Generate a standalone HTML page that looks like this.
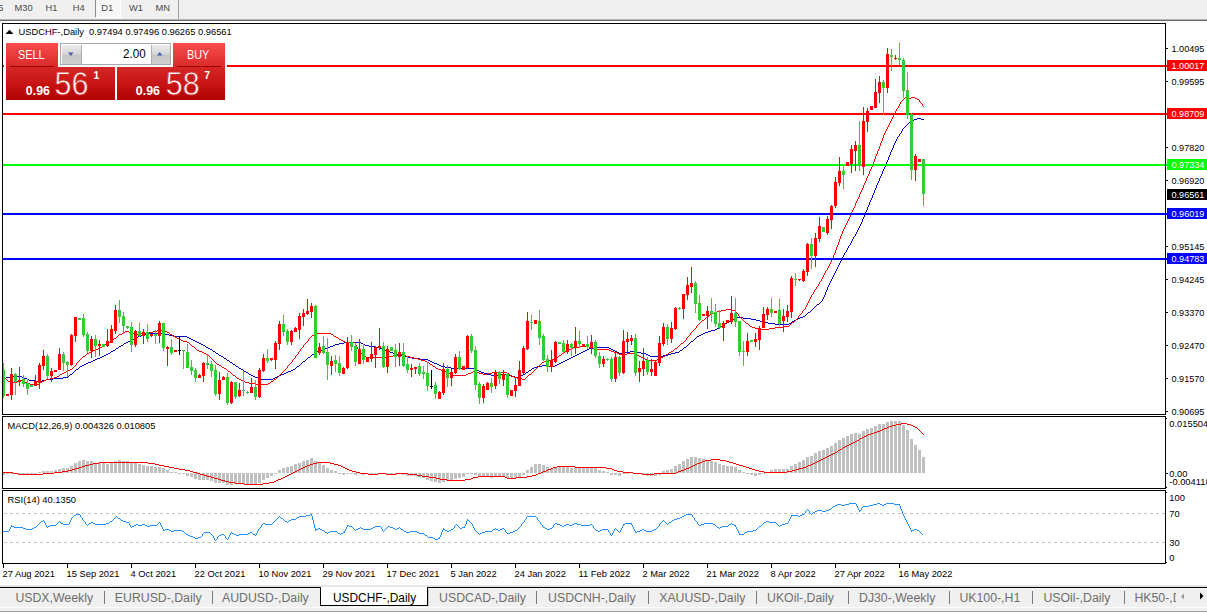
<!DOCTYPE html>
<html><head><meta charset="utf-8"><title>USDCHF-,Daily</title>
<style>
html,body{margin:0;padding:0;background:#fff;}
body{width:1207px;height:613px;overflow:hidden;position:relative;font-family:"Liberation Sans",sans-serif;}
.abs{position:absolute;}
#tb{left:0;top:0;width:1207px;height:19px;background:#f0f0f0;}
#tb span{position:absolute;top:3px;font-size:9.33px;color:#4a4a4a;line-height:11px;white-space:nowrap;}
#tabs{left:0;top:585px;width:1207px;height:28px;background:#f0f0f0;}
#tabs span.t{position:absolute;top:6px;font-size:12.3px;line-height:14px;color:#6e6e6e;white-space:nowrap;}
#tabs i{position:absolute;top:6px;width:1px;height:13px;background:#7a7a7a;}
svg text{font-family:"Liberation Sans",sans-serif;}
.rp{position:absolute;color:#fff;white-space:nowrap;}
</style></head><body>
<div id="tb" class="abs">
<span style="left:-1.8px">5</span><span style="left:14.5px">M30</span><span style="left:45.5px">H1</span><span style="left:72.8px">H4</span>
<div class="abs" style="left:95px;top:0;width:1px;height:17px;background:#8c8c8c"></div>
<div class="abs" style="left:96px;top:0;width:25px;height:18px;background:#fff"></div>
<div class="abs" style="left:96px;top:0;width:24px;height:17px;background:#f7f7f7"></div>
<span style="left:101.3px">D1</span><span style="left:129px">W1</span><span style="left:155.6px">MN</span>
<div class="abs" style="left:178px;top:0;width:1px;height:19px;background:#a0a0a0"></div>
</div>
<div class="abs" style="left:0;top:19px;width:1207px;height:1px;background:#b4b4b4"></div>
<div class="abs" style="left:0;top:20px;width:1207px;height:1px;background:#6a6a6a"></div>
<svg class="abs" style="left:0;top:0" width="1207" height="613" viewBox="0 0 1207 613" shape-rendering="crispEdges">
<path d="M917 118h4v1h-4zM914 119h3v1h-3zM921 119h3v1h-3zM912 120h2v1h-2zM910 121h2v1h-2zM909 122h1v1h-1zM908 123h1v1h-1zM907 124h1v1h-1zM906 125h1v1h-1zM905 126h1v1h-1zM904 127h1v1h-1zM903 128h1v1h-1zM902 129h1v1h-1zM902 130h1v1h-1zM901 131h1v1h-1zM901 132h1v1h-1zM900 133h1v1h-1zM899 134h1v1h-1zM899 135h1v1h-1zM898 136h1v1h-1zM897 137h1v1h-1zM897 138h1v1h-1zM896 139h1v1h-1zM896 140h1v1h-1zM895 141h1v1h-1zM895 142h1v1h-1zM894 143h1v1h-1zM894 144h1v1h-1zM893 145h1v1h-1zM893 146h1v1h-1zM893 147h1v1h-1zM892 148h1v1h-1zM892 149h1v1h-1zM891 150h1v1h-1zM891 151h1v1h-1zM890 152h1v1h-1zM890 153h1v1h-1zM890 154h1v1h-1zM889 155h1v1h-1zM889 156h1v1h-1zM888 157h1v1h-1zM888 158h1v1h-1zM888 159h1v1h-1zM887 160h1v1h-1zM887 161h1v1h-1zM886 162h1v1h-1zM886 163h1v1h-1zM885 164h1v1h-1zM885 165h1v1h-1zM885 166h1v1h-1zM884 167h1v1h-1zM884 168h1v1h-1zM883 169h1v1h-1zM883 170h1v1h-1zM882 171h1v1h-1zM882 172h1v1h-1zM882 173h1v1h-1zM881 174h1v1h-1zM881 175h1v1h-1zM880 176h1v1h-1zM880 177h1v1h-1zM879 178h1v1h-1zM879 179h1v1h-1zM879 180h1v1h-1zM878 181h1v1h-1zM878 182h1v1h-1zM877 183h1v1h-1zM877 184h1v1h-1zM876 185h1v1h-1zM876 186h1v1h-1zM876 187h1v1h-1zM875 188h1v1h-1zM875 189h1v1h-1zM874 190h1v1h-1zM874 191h1v1h-1zM874 192h1v1h-1zM873 193h1v1h-1zM873 194h1v1h-1zM872 195h1v1h-1zM872 196h1v1h-1zM872 197h1v1h-1zM871 198h1v1h-1zM871 199h1v1h-1zM870 200h1v1h-1zM870 201h1v1h-1zM869 202h1v1h-1zM869 203h1v1h-1zM869 204h1v1h-1zM868 205h1v1h-1zM868 206h1v1h-1zM867 207h1v1h-1zM867 208h1v1h-1zM867 209h1v1h-1zM866 210h1v1h-1zM866 211h1v1h-1zM865 212h1v1h-1zM865 213h1v1h-1zM865 214h1v1h-1zM864 215h1v1h-1zM864 216h1v1h-1zM863 217h1v1h-1zM863 218h1v1h-1zM862 219h1v1h-1zM862 220h1v1h-1zM862 221h1v1h-1zM861 222h1v1h-1zM861 223h1v1h-1zM860 224h1v1h-1zM860 225h1v1h-1zM859 226h1v1h-1zM859 227h1v1h-1zM858 228h1v1h-1zM858 229h1v1h-1zM857 230h1v1h-1zM857 231h1v1h-1zM856 232h1v1h-1zM856 233h1v1h-1zM855 234h1v1h-1zM855 235h1v1h-1zM854 236h1v1h-1zM853 237h1v1h-1zM853 238h1v1h-1zM852 239h1v1h-1zM852 240h1v1h-1zM851 241h1v1h-1zM851 242h1v1h-1zM850 243h1v1h-1zM850 244h1v1h-1zM849 245h1v1h-1zM848 246h1v1h-1zM848 247h1v1h-1zM847 248h1v1h-1zM847 249h1v1h-1zM846 250h1v1h-1zM846 251h1v1h-1zM845 252h1v1h-1zM844 253h1v1h-1zM844 254h1v1h-1zM843 255h1v1h-1zM843 256h1v1h-1zM842 257h1v1h-1zM842 258h1v1h-1zM841 259h1v1h-1zM841 260h1v1h-1zM840 261h1v1h-1zM840 262h1v1h-1zM839 263h1v1h-1zM839 264h1v1h-1zM838 265h1v1h-1zM838 266h1v1h-1zM837 267h1v1h-1zM837 268h1v1h-1zM836 269h1v1h-1zM836 270h1v1h-1zM835 271h1v1h-1zM835 272h1v1h-1zM834 273h1v1h-1zM834 274h1v1h-1zM833 275h1v1h-1zM833 276h1v1h-1zM832 277h1v1h-1zM832 278h1v1h-1zM831 279h1v1h-1zM831 280h1v1h-1zM830 281h1v1h-1zM830 282h1v1h-1zM829 283h1v1h-1zM829 284h1v1h-1zM828 285h1v1h-1zM828 286h1v1h-1zM827 287h1v1h-1zM827 288h1v1h-1zM827 289h1v1h-1zM826 290h1v1h-1zM826 291h1v1h-1zM825 292h1v1h-1zM825 293h1v1h-1zM825 294h1v1h-1zM824 295h1v1h-1zM824 296h1v1h-1zM823 297h1v1h-1zM823 298h1v1h-1zM822 299h1v1h-1zM822 300h1v1h-1zM821 301h1v1h-1zM820 302h1v1h-1zM819 303h1v1h-1zM817 304h2v1h-2zM816 305h1v1h-1zM815 306h1v1h-1zM814 307h1v1h-1zM813 308h1v1h-1zM812 309h1v1h-1zM811 310h1v1h-1zM810 311h1v1h-1zM808 312h2v1h-2zM807 313h1v1h-1zM806 314h1v1h-1zM805 315h1v1h-1zM803 316h2v1h-2zM737 317h6v1h-6zM800 317h3v1h-3zM735 318h2v1h-2zM743 318h8v1h-8zM798 318h2v1h-2zM733 319h2v1h-2zM751 319h5v1h-5zM796 319h2v1h-2zM731 320h2v1h-2zM756 320h4v1h-4zM794 320h2v1h-2zM729 321h2v1h-2zM760 321h4v1h-4zM792 321h2v1h-2zM727 322h2v1h-2zM764 322h4v1h-4zM791 322h1v1h-1zM725 323h2v1h-2zM768 323h7v1h-7zM789 323h2v1h-2zM724 324h1v1h-1zM775 324h14v1h-14zM722 325h2v1h-2zM720 326h2v1h-2zM719 327h1v1h-1zM717 328h2v1h-2zM715 329h2v1h-2zM711 330h4v1h-4zM708 331h3v1h-3zM705 332h3v1h-3zM147 333h17v1h-17zM703 333h2v1h-2zM145 334h2v1h-2zM164 334h5v1h-5zM701 334h2v1h-2zM141 335h4v1h-4zM169 335h5v1h-5zM699 335h2v1h-2zM138 336h3v1h-3zM174 336h13v1h-13zM697 336h2v1h-2zM136 337h2v1h-2zM187 337h2v1h-2zM696 337h1v1h-1zM134 338h2v1h-2zM189 338h2v1h-2zM695 338h1v1h-1zM132 339h2v1h-2zM191 339h2v1h-2zM694 339h1v1h-1zM130 340h2v1h-2zM193 340h2v1h-2zM693 340h1v1h-1zM128 341h2v1h-2zM195 341h2v1h-2zM691 341h2v1h-2zM126 342h2v1h-2zM197 342h2v1h-2zM344 342h17v1h-17zM690 342h1v1h-1zM124 343h2v1h-2zM199 343h2v1h-2zM339 343h5v1h-5zM361 343h2v1h-2zM689 343h1v1h-1zM123 344h1v1h-1zM201 344h2v1h-2zM335 344h4v1h-4zM363 344h2v1h-2zM688 344h1v1h-1zM121 345h2v1h-2zM203 345h2v1h-2zM333 345h2v1h-2zM365 345h4v1h-4zM687 345h1v1h-1zM119 346h2v1h-2zM205 346h1v1h-1zM330 346h3v1h-3zM369 346h6v1h-6zM686 346h1v1h-1zM118 347h1v1h-1zM206 347h2v1h-2zM328 347h2v1h-2zM375 347h5v1h-5zM594 347h15v1h-15zM684 347h2v1h-2zM116 348h2v1h-2zM208 348h2v1h-2zM325 348h3v1h-3zM380 348h2v1h-2zM589 348h5v1h-5zM609 348h2v1h-2zM683 348h1v1h-1zM115 349h1v1h-1zM210 349h2v1h-2zM322 349h3v1h-3zM382 349h3v1h-3zM587 349h2v1h-2zM611 349h2v1h-2zM682 349h1v1h-1zM113 350h2v1h-2zM212 350h1v1h-1zM320 350h2v1h-2zM385 350h2v1h-2zM585 350h2v1h-2zM613 350h2v1h-2zM680 350h2v1h-2zM111 351h2v1h-2zM213 351h2v1h-2zM317 351h3v1h-3zM387 351h3v1h-3zM583 351h2v1h-2zM615 351h2v1h-2zM630 351h5v1h-5zM679 351h1v1h-1zM110 352h1v1h-1zM215 352h1v1h-1zM315 352h2v1h-2zM390 352h3v1h-3zM581 352h2v1h-2zM617 352h2v1h-2zM623 352h7v1h-7zM635 352h6v1h-6zM675 352h4v1h-4zM108 353h2v1h-2zM216 353h2v1h-2zM314 353h1v1h-1zM393 353h3v1h-3zM579 353h2v1h-2zM619 353h4v1h-4zM641 353h5v1h-5zM671 353h4v1h-4zM106 354h2v1h-2zM218 354h1v1h-1zM312 354h2v1h-2zM396 354h3v1h-3zM577 354h2v1h-2zM646 354h2v1h-2zM668 354h3v1h-3zM104 355h2v1h-2zM219 355h2v1h-2zM311 355h1v1h-1zM399 355h4v1h-4zM575 355h2v1h-2zM648 355h2v1h-2zM663 355h5v1h-5zM102 356h2v1h-2zM221 356h2v1h-2zM310 356h1v1h-1zM403 356h4v1h-4zM573 356h2v1h-2zM650 356h13v1h-13zM100 357h2v1h-2zM223 357h1v1h-1zM308 357h2v1h-2zM407 357h5v1h-5zM571 357h2v1h-2zM97 358h3v1h-3zM224 358h2v1h-2zM307 358h1v1h-1zM412 358h8v1h-8zM569 358h2v1h-2zM95 359h2v1h-2zM226 359h1v1h-1zM306 359h1v1h-1zM420 359h8v1h-8zM567 359h2v1h-2zM93 360h2v1h-2zM227 360h2v1h-2zM305 360h1v1h-1zM428 360h2v1h-2zM565 360h2v1h-2zM91 361h2v1h-2zM229 361h1v1h-1zM303 361h2v1h-2zM430 361h2v1h-2zM563 361h2v1h-2zM88 362h3v1h-3zM230 362h2v1h-2zM302 362h1v1h-1zM432 362h2v1h-2zM561 362h2v1h-2zM86 363h2v1h-2zM232 363h1v1h-1zM301 363h1v1h-1zM434 363h3v1h-3zM559 363h2v1h-2zM84 364h2v1h-2zM233 364h2v1h-2zM300 364h1v1h-1zM437 364h2v1h-2zM557 364h2v1h-2zM82 365h2v1h-2zM235 365h1v1h-1zM299 365h1v1h-1zM439 365h2v1h-2zM542 365h7v1h-7zM555 365h2v1h-2zM80 366h2v1h-2zM236 366h2v1h-2zM297 366h2v1h-2zM441 366h4v1h-4zM537 366h5v1h-5zM549 366h6v1h-6zM79 367h1v1h-1zM238 367h1v1h-1zM296 367h1v1h-1zM445 367h6v1h-6zM534 367h3v1h-3zM78 368h1v1h-1zM239 368h2v1h-2zM295 368h1v1h-1zM451 368h23v1h-23zM532 368h2v1h-2zM76 369h2v1h-2zM241 369h2v1h-2zM293 369h2v1h-2zM474 369h2v1h-2zM531 369h1v1h-1zM75 370h1v1h-1zM243 370h1v1h-1zM291 370h2v1h-2zM476 370h3v1h-3zM529 370h2v1h-2zM74 371h1v1h-1zM244 371h2v1h-2zM288 371h3v1h-3zM479 371h2v1h-2zM528 371h1v1h-1zM73 372h1v1h-1zM246 372h2v1h-2zM286 372h2v1h-2zM481 372h3v1h-3zM526 372h2v1h-2zM72 373h1v1h-1zM248 373h1v1h-1zM284 373h2v1h-2zM484 373h3v1h-3zM525 373h1v1h-1zM70 374h2v1h-2zM249 374h2v1h-2zM281 374h3v1h-3zM487 374h4v1h-4zM499 374h9v1h-9zM523 374h2v1h-2zM69 375h1v1h-1zM251 375h2v1h-2zM279 375h2v1h-2zM491 375h8v1h-8zM508 375h3v1h-3zM521 375h2v1h-2zM10 376h12v1h-12zM68 376h1v1h-1zM253 376h2v1h-2zM277 376h2v1h-2zM511 376h4v1h-4zM518 376h3v1h-3zM6 377h4v1h-4zM22 377h2v1h-2zM63 377h5v1h-5zM255 377h3v1h-3zM275 377h2v1h-2zM515 377h3v1h-3zM3 378h3v1h-3zM24 378h3v1h-3zM53 378h10v1h-10zM258 378h3v1h-3zM273 378h2v1h-2zM27 379h2v1h-2zM46 379h7v1h-7zM261 379h12v1h-12zM29 380h6v1h-6zM42 380h4v1h-4zM35 381h7v1h-7z" fill="#0000c8"/>
<path d="M905 97h2v1h-2zM911 97h4v1h-4zM904 98h1v1h-1zM907 98h4v1h-4zM915 98h2v1h-2zM903 99h1v1h-1zM917 99h2v1h-2zM902 100h1v1h-1zM919 100h1v1h-1zM901 101h1v1h-1zM919 101h1v1h-1zM900 102h1v1h-1zM920 102h1v1h-1zM900 103h1v1h-1zM921 103h1v1h-1zM899 104h1v1h-1zM922 104h1v1h-1zM899 105h1v1h-1zM922 105h1v1h-1zM898 106h1v1h-1zM923 106h1v1h-1zM898 107h1v1h-1zM897 108h1v1h-1zM896 109h1v1h-1zM896 110h1v1h-1zM895 111h1v1h-1zM895 112h1v1h-1zM894 113h1v1h-1zM894 114h1v1h-1zM893 115h1v1h-1zM893 116h1v1h-1zM892 117h1v1h-1zM892 118h1v1h-1zM891 119h1v1h-1zM891 120h1v1h-1zM890 121h1v1h-1zM890 122h1v1h-1zM889 123h1v1h-1zM889 124h1v1h-1zM888 125h1v1h-1zM888 126h1v1h-1zM887 127h1v1h-1zM887 128h1v1h-1zM886 129h1v1h-1zM886 130h1v1h-1zM885 131h1v1h-1zM885 132h1v1h-1zM884 133h1v1h-1zM884 134h1v1h-1zM883 135h1v1h-1zM883 136h1v1h-1zM883 137h1v1h-1zM882 138h1v1h-1zM882 139h1v1h-1zM882 140h1v1h-1zM881 141h1v1h-1zM881 142h1v1h-1zM880 143h1v1h-1zM880 144h1v1h-1zM880 145h1v1h-1zM879 146h1v1h-1zM879 147h1v1h-1zM879 148h1v1h-1zM878 149h1v1h-1zM878 150h1v1h-1zM877 151h1v1h-1zM877 152h1v1h-1zM877 153h1v1h-1zM876 154h1v1h-1zM876 155h1v1h-1zM875 156h1v1h-1zM875 157h1v1h-1zM875 158h1v1h-1zM874 159h1v1h-1zM874 160h1v1h-1zM874 161h1v1h-1zM873 162h1v1h-1zM873 163h1v1h-1zM872 164h1v1h-1zM872 165h1v1h-1zM872 166h1v1h-1zM871 167h1v1h-1zM871 168h1v1h-1zM870 169h1v1h-1zM870 170h1v1h-1zM869 171h1v1h-1zM869 172h1v1h-1zM869 173h1v1h-1zM868 174h1v1h-1zM868 175h1v1h-1zM867 176h1v1h-1zM867 177h1v1h-1zM866 178h1v1h-1zM866 179h1v1h-1zM866 180h1v1h-1zM865 181h1v1h-1zM865 182h1v1h-1zM864 183h1v1h-1zM864 184h1v1h-1zM863 185h1v1h-1zM863 186h1v1h-1zM863 187h1v1h-1zM862 188h1v1h-1zM862 189h1v1h-1zM861 190h1v1h-1zM861 191h1v1h-1zM860 192h1v1h-1zM860 193h1v1h-1zM859 194h1v1h-1zM859 195h1v1h-1zM859 196h1v1h-1zM858 197h1v1h-1zM858 198h1v1h-1zM857 199h1v1h-1zM857 200h1v1h-1zM856 201h1v1h-1zM856 202h1v1h-1zM855 203h1v1h-1zM855 204h1v1h-1zM855 205h1v1h-1zM854 206h1v1h-1zM854 207h1v1h-1zM853 208h1v1h-1zM853 209h1v1h-1zM852 210h1v1h-1zM852 211h1v1h-1zM851 212h1v1h-1zM851 213h1v1h-1zM851 214h1v1h-1zM850 215h1v1h-1zM850 216h1v1h-1zM849 217h1v1h-1zM849 218h1v1h-1zM848 219h1v1h-1zM848 220h1v1h-1zM847 221h1v1h-1zM847 222h1v1h-1zM846 223h1v1h-1zM846 224h1v1h-1zM845 225h1v1h-1zM845 226h1v1h-1zM844 227h1v1h-1zM844 228h1v1h-1zM843 229h1v1h-1zM843 230h1v1h-1zM842 231h1v1h-1zM842 232h1v1h-1zM842 233h1v1h-1zM841 234h1v1h-1zM841 235h1v1h-1zM840 236h1v1h-1zM840 237h1v1h-1zM840 238h1v1h-1zM839 239h1v1h-1zM839 240h1v1h-1zM839 241h1v1h-1zM838 242h1v1h-1zM838 243h1v1h-1zM838 244h1v1h-1zM837 245h1v1h-1zM837 246h1v1h-1zM836 247h1v1h-1zM836 248h1v1h-1zM836 249h1v1h-1zM835 250h1v1h-1zM835 251h1v1h-1zM835 252h1v1h-1zM834 253h1v1h-1zM834 254h1v1h-1zM833 255h1v1h-1zM833 256h1v1h-1zM833 257h1v1h-1zM832 258h1v1h-1zM832 259h1v1h-1zM831 260h1v1h-1zM831 261h1v1h-1zM830 262h1v1h-1zM830 263h1v1h-1zM829 264h1v1h-1zM829 265h1v1h-1zM828 266h1v1h-1zM828 267h1v1h-1zM827 268h1v1h-1zM827 269h1v1h-1zM826 270h1v1h-1zM825 271h1v1h-1zM825 272h1v1h-1zM824 273h1v1h-1zM824 274h1v1h-1zM823 275h1v1h-1zM823 276h1v1h-1zM822 277h1v1h-1zM822 278h1v1h-1zM821 279h1v1h-1zM821 280h1v1h-1zM820 281h1v1h-1zM819 282h1v1h-1zM819 283h1v1h-1zM818 284h1v1h-1zM818 285h1v1h-1zM817 286h1v1h-1zM816 287h1v1h-1zM816 288h1v1h-1zM815 289h1v1h-1zM814 290h1v1h-1zM814 291h1v1h-1zM813 292h1v1h-1zM813 293h1v1h-1zM812 294h1v1h-1zM811 295h1v1h-1zM811 296h1v1h-1zM810 297h1v1h-1zM810 298h1v1h-1zM809 299h1v1h-1zM809 300h1v1h-1zM808 301h1v1h-1zM808 302h1v1h-1zM807 303h1v1h-1zM807 304h1v1h-1zM806 305h1v1h-1zM806 306h1v1h-1zM805 307h1v1h-1zM805 308h1v1h-1zM726 309h5v1h-5zM804 309h1v1h-1zM721 310h5v1h-5zM731 310h4v1h-4zM803 310h1v1h-1zM717 311h4v1h-4zM735 311h1v1h-1zM802 311h1v1h-1zM714 312h3v1h-3zM736 312h1v1h-1zM802 312h1v1h-1zM712 313h2v1h-2zM737 313h1v1h-1zM801 313h1v1h-1zM710 314h2v1h-2zM738 314h1v1h-1zM800 314h1v1h-1zM709 315h1v1h-1zM738 315h1v1h-1zM799 315h1v1h-1zM707 316h2v1h-2zM739 316h1v1h-1zM798 316h1v1h-1zM706 317h1v1h-1zM740 317h1v1h-1zM798 317h1v1h-1zM705 318h1v1h-1zM741 318h1v1h-1zM797 318h1v1h-1zM704 319h1v1h-1zM742 319h1v1h-1zM796 319h1v1h-1zM702 320h2v1h-2zM743 320h1v1h-1zM795 320h1v1h-1zM701 321h1v1h-1zM744 321h1v1h-1zM794 321h1v1h-1zM700 322h1v1h-1zM745 322h1v1h-1zM792 322h2v1h-2zM699 323h1v1h-1zM746 323h2v1h-2zM791 323h1v1h-1zM698 324h1v1h-1zM748 324h1v1h-1zM790 324h1v1h-1zM697 325h1v1h-1zM749 325h1v1h-1zM789 325h1v1h-1zM696 326h1v1h-1zM750 326h2v1h-2zM783 326h6v1h-6zM696 327h1v1h-1zM752 327h3v1h-3zM775 327h8v1h-8zM695 328h1v1h-1zM755 328h6v1h-6zM769 328h6v1h-6zM694 329h1v1h-1zM761 329h8v1h-8zM157 330h6v1h-6zM693 330h1v1h-1zM125 331h4v1h-4zM153 331h4v1h-4zM163 331h4v1h-4zM692 331h1v1h-1zM124 332h1v1h-1zM129 332h2v1h-2zM147 332h6v1h-6zM167 332h2v1h-2zM691 332h1v1h-1zM122 333h2v1h-2zM131 333h4v1h-4zM140 333h7v1h-7zM169 333h1v1h-1zM317 333h14v1h-14zM690 333h1v1h-1zM119 334h3v1h-3zM135 334h5v1h-5zM170 334h2v1h-2zM314 334h3v1h-3zM331 334h2v1h-2zM690 334h1v1h-1zM118 335h1v1h-1zM172 335h1v1h-1zM312 335h2v1h-2zM333 335h1v1h-1zM689 335h1v1h-1zM117 336h1v1h-1zM173 336h2v1h-2zM311 336h1v1h-1zM334 336h2v1h-2zM688 336h1v1h-1zM116 337h1v1h-1zM175 337h2v1h-2zM310 337h1v1h-1zM336 337h2v1h-2zM687 337h1v1h-1zM114 338h2v1h-2zM177 338h2v1h-2zM309 338h1v1h-1zM338 338h1v1h-1zM686 338h1v1h-1zM113 339h1v1h-1zM179 339h2v1h-2zM308 339h1v1h-1zM339 339h2v1h-2zM686 339h1v1h-1zM112 340h1v1h-1zM181 340h2v1h-2zM308 340h1v1h-1zM341 340h2v1h-2zM685 340h1v1h-1zM111 341h1v1h-1zM183 341h4v1h-4zM307 341h1v1h-1zM343 341h2v1h-2zM684 341h1v1h-1zM109 342h2v1h-2zM187 342h2v1h-2zM306 342h1v1h-1zM345 342h10v1h-10zM683 342h1v1h-1zM107 343h2v1h-2zM189 343h1v1h-1zM305 343h1v1h-1zM355 343h1v1h-1zM681 343h2v1h-2zM105 344h2v1h-2zM190 344h1v1h-1zM304 344h1v1h-1zM355 344h1v1h-1zM680 344h1v1h-1zM104 345h1v1h-1zM191 345h1v1h-1zM303 345h1v1h-1zM356 345h1v1h-1zM679 345h1v1h-1zM102 346h2v1h-2zM192 346h2v1h-2zM303 346h1v1h-1zM356 346h1v1h-1zM580 346h9v1h-9zM678 346h1v1h-1zM100 347h2v1h-2zM194 347h1v1h-1zM302 347h1v1h-1zM357 347h1v1h-1zM573 347h7v1h-7zM589 347h4v1h-4zM677 347h1v1h-1zM98 348h2v1h-2zM195 348h1v1h-1zM301 348h1v1h-1zM357 348h1v1h-1zM571 348h2v1h-2zM593 348h4v1h-4zM675 348h2v1h-2zM96 349h2v1h-2zM196 349h1v1h-1zM300 349h1v1h-1zM358 349h1v1h-1zM569 349h2v1h-2zM597 349h12v1h-12zM674 349h1v1h-1zM93 350h3v1h-3zM197 350h2v1h-2zM300 350h1v1h-1zM358 350h1v1h-1zM567 350h2v1h-2zM609 350h2v1h-2zM673 350h1v1h-1zM91 351h2v1h-2zM199 351h3v1h-3zM299 351h1v1h-1zM359 351h1v1h-1zM565 351h2v1h-2zM611 351h3v1h-3zM671 351h2v1h-2zM89 352h2v1h-2zM202 352h2v1h-2zM298 352h1v1h-1zM360 352h1v1h-1zM564 352h1v1h-1zM614 352h3v1h-3zM669 352h2v1h-2zM87 353h2v1h-2zM204 353h2v1h-2zM298 353h1v1h-1zM361 353h1v1h-1zM562 353h2v1h-2zM617 353h2v1h-2zM627 353h7v1h-7zM668 353h1v1h-1zM86 354h1v1h-1zM206 354h2v1h-2zM297 354h1v1h-1zM362 354h2v1h-2zM398 354h4v1h-4zM561 354h1v1h-1zM619 354h8v1h-8zM634 354h2v1h-2zM666 354h2v1h-2zM85 355h1v1h-1zM208 355h1v1h-1zM296 355h1v1h-1zM364 355h1v1h-1zM393 355h5v1h-5zM402 355h4v1h-4zM559 355h2v1h-2zM636 355h3v1h-3zM665 355h1v1h-1zM83 356h2v1h-2zM209 356h1v1h-1zM295 356h1v1h-1zM365 356h1v1h-1zM389 356h4v1h-4zM406 356h4v1h-4zM558 356h1v1h-1zM639 356h2v1h-2zM663 356h2v1h-2zM82 357h1v1h-1zM210 357h1v1h-1zM295 357h1v1h-1zM366 357h23v1h-23zM410 357h4v1h-4zM557 357h1v1h-1zM641 357h2v1h-2zM661 357h2v1h-2zM81 358h1v1h-1zM211 358h1v1h-1zM294 358h1v1h-1zM414 358h4v1h-4zM555 358h2v1h-2zM643 358h2v1h-2zM659 358h2v1h-2zM80 359h1v1h-1zM212 359h1v1h-1zM293 359h1v1h-1zM418 359h3v1h-3zM552 359h3v1h-3zM645 359h2v1h-2zM657 359h2v1h-2zM79 360h1v1h-1zM213 360h1v1h-1zM292 360h1v1h-1zM421 360h4v1h-4zM548 360h4v1h-4zM647 360h10v1h-10zM78 361h1v1h-1zM214 361h1v1h-1zM292 361h1v1h-1zM425 361h2v1h-2zM544 361h4v1h-4zM77 362h1v1h-1zM215 362h1v1h-1zM291 362h1v1h-1zM427 362h2v1h-2zM542 362h2v1h-2zM76 363h1v1h-1zM216 363h1v1h-1zM290 363h1v1h-1zM429 363h1v1h-1zM541 363h1v1h-1zM76 364h1v1h-1zM217 364h2v1h-2zM289 364h1v1h-1zM430 364h2v1h-2zM540 364h1v1h-1zM75 365h1v1h-1zM219 365h2v1h-2zM288 365h1v1h-1zM432 365h1v1h-1zM539 365h1v1h-1zM74 366h1v1h-1zM221 366h1v1h-1zM287 366h1v1h-1zM433 366h2v1h-2zM538 366h1v1h-1zM73 367h1v1h-1zM222 367h2v1h-2zM287 367h1v1h-1zM435 367h1v1h-1zM537 367h1v1h-1zM72 368h1v1h-1zM224 368h2v1h-2zM286 368h1v1h-1zM436 368h2v1h-2zM536 368h1v1h-1zM70 369h2v1h-2zM226 369h1v1h-1zM285 369h1v1h-1zM438 369h3v1h-3zM535 369h1v1h-1zM68 370h2v1h-2zM227 370h1v1h-1zM284 370h1v1h-1zM441 370h4v1h-4zM534 370h1v1h-1zM66 371h2v1h-2zM228 371h2v1h-2zM283 371h1v1h-1zM445 371h2v1h-2zM473 371h3v1h-3zM533 371h1v1h-1zM64 372h2v1h-2zM230 372h1v1h-1zM282 372h1v1h-1zM447 372h2v1h-2zM471 372h2v1h-2zM476 372h3v1h-3zM492 372h15v1h-15zM532 372h1v1h-1zM62 373h2v1h-2zM231 373h1v1h-1zM281 373h1v1h-1zM449 373h2v1h-2zM468 373h3v1h-3zM479 373h4v1h-4zM487 373h5v1h-5zM507 373h2v1h-2zM531 373h1v1h-1zM60 374h2v1h-2zM232 374h1v1h-1zM280 374h1v1h-1zM451 374h2v1h-2zM466 374h2v1h-2zM483 374h4v1h-4zM509 374h1v1h-1zM529 374h2v1h-2zM59 375h1v1h-1zM233 375h2v1h-2zM279 375h1v1h-1zM453 375h13v1h-13zM510 375h2v1h-2zM528 375h1v1h-1zM57 376h2v1h-2zM235 376h1v1h-1zM278 376h1v1h-1zM512 376h2v1h-2zM527 376h1v1h-1zM54 377h3v1h-3zM236 377h1v1h-1zM277 377h1v1h-1zM514 377h3v1h-3zM526 377h1v1h-1zM5 378h1v1h-1zM50 378h4v1h-4zM237 378h2v1h-2zM276 378h1v1h-1zM517 378h5v1h-5zM525 378h1v1h-1zM6 379h1v1h-1zM46 379h4v1h-4zM239 379h2v1h-2zM274 379h2v1h-2zM522 379h3v1h-3zM7 380h1v1h-1zM19 380h3v1h-3zM44 380h2v1h-2zM241 380h2v1h-2zM273 380h1v1h-1zM8 381h4v1h-4zM17 381h2v1h-2zM22 381h2v1h-2zM42 381h2v1h-2zM243 381h2v1h-2zM271 381h2v1h-2zM12 382h5v1h-5zM24 382h3v1h-3zM40 382h2v1h-2zM245 382h4v1h-4zM270 382h1v1h-1zM27 383h3v1h-3zM39 383h1v1h-1zM249 383h6v1h-6zM268 383h2v1h-2zM30 384h4v1h-4zM37 384h2v1h-2zM255 384h13v1h-13zM34 385h3v1h-3z" fill="#ff0000"/>
<rect x="3" y="65" width="1164" height="2" fill="#ff0000"/>
<rect x="3" y="113" width="1164" height="2" fill="#ff0000"/>
<rect x="3" y="164" width="1164" height="2" fill="#00ff00"/>
<rect x="3" y="213" width="1164" height="2" fill="#0000ff"/>
<rect x="3" y="258" width="1164" height="2" fill="#0000ff"/>
<rect x="3" y="363" width="1" height="35" fill="#32cd32"/>
<rect x="3" y="370" width="2" height="26" fill="#32cd32"/>
<rect x="7" y="394" width="1" height="1" fill="#ff0000"/>
<rect x="6" y="394" width="3" height="2" fill="#ff0000"/>
<rect x="11" y="368" width="1" height="32" fill="#ff0000"/>
<rect x="10" y="374" width="3" height="21" fill="#ff0000"/>
<rect x="15" y="373" width="1" height="22" fill="#32cd32"/>
<rect x="14" y="374" width="3" height="8" fill="#32cd32"/>
<rect x="19" y="367" width="1" height="19" fill="#ff0000"/>
<rect x="18" y="380" width="3" height="2" fill="#ff0000"/>
<rect x="23" y="375" width="1" height="12" fill="#32cd32"/>
<rect x="22" y="379" width="3" height="5" fill="#32cd32"/>
<rect x="27" y="379" width="1" height="16" fill="#32cd32"/>
<rect x="26" y="383" width="3" height="6" fill="#32cd32"/>
<rect x="31" y="385" width="1" height="1" fill="#32cd32"/>
<rect x="30" y="385" width="3" height="2" fill="#32cd32"/>
<rect x="35" y="375" width="1" height="11" fill="#ff0000"/>
<rect x="34" y="381" width="3" height="5" fill="#ff0000"/>
<rect x="39" y="363" width="1" height="26" fill="#ff0000"/>
<rect x="38" y="365" width="3" height="18" fill="#ff0000"/>
<rect x="43" y="350" width="1" height="20" fill="#ff0000"/>
<rect x="42" y="356" width="3" height="10" fill="#ff0000"/>
<rect x="47" y="354" width="1" height="25" fill="#32cd32"/>
<rect x="46" y="356" width="3" height="20" fill="#32cd32"/>
<rect x="51" y="368" width="1" height="14" fill="#ff0000"/>
<rect x="50" y="371" width="3" height="5" fill="#ff0000"/>
<rect x="55" y="370" width="1" height="1" fill="#ff0000"/>
<rect x="54" y="370" width="3" height="2" fill="#ff0000"/>
<rect x="59" y="348" width="1" height="22" fill="#ff0000"/>
<rect x="58" y="354" width="3" height="16" fill="#ff0000"/>
<rect x="63" y="352" width="1" height="19" fill="#32cd32"/>
<rect x="62" y="354" width="3" height="9" fill="#32cd32"/>
<rect x="67" y="361" width="1" height="16" fill="#32cd32"/>
<rect x="66" y="362" width="3" height="3" fill="#32cd32"/>
<rect x="71" y="334" width="1" height="32" fill="#ff0000"/>
<rect x="70" y="335" width="3" height="30" fill="#ff0000"/>
<rect x="75" y="317" width="1" height="25" fill="#ff0000"/>
<rect x="74" y="317" width="3" height="19" fill="#ff0000"/>
<rect x="79" y="318" width="1" height="1" fill="#32cd32"/>
<rect x="78" y="318" width="3" height="2" fill="#32cd32"/>
<rect x="83" y="314" width="1" height="23" fill="#32cd32"/>
<rect x="82" y="318" width="3" height="17" fill="#32cd32"/>
<rect x="87" y="332" width="1" height="21" fill="#32cd32"/>
<rect x="86" y="334" width="3" height="17" fill="#32cd32"/>
<rect x="91" y="336" width="1" height="22" fill="#ff0000"/>
<rect x="90" y="339" width="3" height="12" fill="#ff0000"/>
<rect x="95" y="335" width="1" height="22" fill="#32cd32"/>
<rect x="94" y="339" width="3" height="7" fill="#32cd32"/>
<rect x="99" y="340" width="1" height="16" fill="#ff0000"/>
<rect x="98" y="344" width="3" height="2" fill="#ff0000"/>
<rect x="103" y="344" width="1" height="3" fill="#32cd32"/>
<rect x="102" y="344" width="3" height="3" fill="#32cd32"/>
<rect x="107" y="329" width="1" height="18" fill="#ff0000"/>
<rect x="106" y="341" width="3" height="5" fill="#ff0000"/>
<rect x="111" y="325" width="1" height="18" fill="#ff0000"/>
<rect x="110" y="329" width="3" height="14" fill="#ff0000"/>
<rect x="115" y="305" width="1" height="29" fill="#ff0000"/>
<rect x="114" y="310" width="3" height="21" fill="#ff0000"/>
<rect x="119" y="300" width="1" height="23" fill="#32cd32"/>
<rect x="118" y="310" width="3" height="7" fill="#32cd32"/>
<rect x="123" y="312" width="1" height="22" fill="#32cd32"/>
<rect x="122" y="316" width="3" height="10" fill="#32cd32"/>
<rect x="127" y="326" width="1" height="3" fill="#32cd32"/>
<rect x="126" y="326" width="3" height="2" fill="#32cd32"/>
<rect x="131" y="322" width="1" height="30" fill="#32cd32"/>
<rect x="130" y="327" width="3" height="18" fill="#32cd32"/>
<rect x="135" y="330" width="1" height="17" fill="#ff0000"/>
<rect x="134" y="331" width="3" height="14" fill="#ff0000"/>
<rect x="139" y="323" width="1" height="14" fill="#32cd32"/>
<rect x="138" y="331" width="3" height="5" fill="#32cd32"/>
<rect x="143" y="329" width="1" height="15" fill="#ff0000"/>
<rect x="142" y="332" width="3" height="4" fill="#ff0000"/>
<rect x="147" y="324" width="1" height="18" fill="#32cd32"/>
<rect x="146" y="332" width="3" height="7" fill="#32cd32"/>
<rect x="151" y="334" width="1" height="3" fill="#ff0000"/>
<rect x="150" y="334" width="3" height="2" fill="#ff0000"/>
<rect x="155" y="330" width="1" height="14" fill="#32cd32"/>
<rect x="154" y="334" width="3" height="2" fill="#32cd32"/>
<rect x="159" y="321" width="1" height="22" fill="#ff0000"/>
<rect x="158" y="323" width="3" height="13" fill="#ff0000"/>
<rect x="163" y="323" width="1" height="28" fill="#32cd32"/>
<rect x="162" y="323" width="3" height="25" fill="#32cd32"/>
<rect x="167" y="346" width="1" height="20" fill="#ff0000"/>
<rect x="166" y="347" width="3" height="2" fill="#ff0000"/>
<rect x="171" y="339" width="1" height="16" fill="#32cd32"/>
<rect x="170" y="347" width="3" height="6" fill="#32cd32"/>
<rect x="175" y="350" width="1" height="2" fill="#ff0000"/>
<rect x="174" y="350" width="3" height="2" fill="#ff0000"/>
<rect x="183" y="350" width="1" height="19" fill="#32cd32"/>
<rect x="182" y="350" width="3" height="1" fill="#32cd32"/>
<rect x="187" y="344" width="1" height="24" fill="#32cd32"/>
<rect x="186" y="352" width="3" height="16" fill="#32cd32"/>
<rect x="191" y="360" width="1" height="15" fill="#32cd32"/>
<rect x="190" y="367" width="3" height="4" fill="#32cd32"/>
<rect x="195" y="368" width="1" height="14" fill="#32cd32"/>
<rect x="194" y="370" width="3" height="8" fill="#32cd32"/>
<rect x="199" y="374" width="1" height="4" fill="#ff0000"/>
<rect x="198" y="375" width="3" height="3" fill="#ff0000"/>
<rect x="203" y="362" width="1" height="20" fill="#ff0000"/>
<rect x="202" y="363" width="3" height="13" fill="#ff0000"/>
<rect x="207" y="354" width="1" height="15" fill="#32cd32"/>
<rect x="206" y="363" width="3" height="2" fill="#32cd32"/>
<rect x="211" y="361" width="1" height="16" fill="#32cd32"/>
<rect x="210" y="364" width="3" height="7" fill="#32cd32"/>
<rect x="215" y="365" width="1" height="31" fill="#32cd32"/>
<rect x="214" y="370" width="3" height="24" fill="#32cd32"/>
<rect x="219" y="372" width="1" height="28" fill="#ff0000"/>
<rect x="218" y="380" width="3" height="14" fill="#ff0000"/>
<rect x="223" y="376" width="1" height="4" fill="#ff0000"/>
<rect x="222" y="377" width="3" height="3" fill="#ff0000"/>
<rect x="227" y="373" width="1" height="32" fill="#32cd32"/>
<rect x="226" y="377" width="3" height="26" fill="#32cd32"/>
<rect x="231" y="381" width="1" height="23" fill="#ff0000"/>
<rect x="230" y="382" width="3" height="21" fill="#ff0000"/>
<rect x="235" y="382" width="1" height="17" fill="#32cd32"/>
<rect x="234" y="382" width="3" height="15" fill="#32cd32"/>
<rect x="239" y="383" width="1" height="14" fill="#ff0000"/>
<rect x="238" y="390" width="3" height="6" fill="#ff0000"/>
<rect x="243" y="371" width="1" height="25" fill="#32cd32"/>
<rect x="242" y="390" width="3" height="1" fill="#32cd32"/>
<rect x="247" y="391" width="1" height="3" fill="#32cd32"/>
<rect x="246" y="392" width="3" height="1" fill="#32cd32"/>
<rect x="251" y="378" width="1" height="15" fill="#ff0000"/>
<rect x="250" y="387" width="3" height="6" fill="#ff0000"/>
<rect x="255" y="380" width="1" height="20" fill="#32cd32"/>
<rect x="254" y="387" width="3" height="10" fill="#32cd32"/>
<rect x="259" y="368" width="1" height="30" fill="#ff0000"/>
<rect x="258" y="370" width="3" height="27" fill="#ff0000"/>
<rect x="263" y="354" width="1" height="18" fill="#ff0000"/>
<rect x="262" y="358" width="3" height="13" fill="#ff0000"/>
<rect x="267" y="349" width="1" height="14" fill="#32cd32"/>
<rect x="266" y="358" width="3" height="3" fill="#32cd32"/>
<rect x="271" y="358" width="1" height="3" fill="#ff0000"/>
<rect x="270" y="358" width="3" height="2" fill="#ff0000"/>
<rect x="275" y="341" width="1" height="28" fill="#ff0000"/>
<rect x="274" y="343" width="3" height="17" fill="#ff0000"/>
<rect x="279" y="321" width="1" height="29" fill="#ff0000"/>
<rect x="278" y="324" width="3" height="20" fill="#ff0000"/>
<rect x="283" y="315" width="1" height="21" fill="#32cd32"/>
<rect x="282" y="324" width="3" height="8" fill="#32cd32"/>
<rect x="287" y="329" width="1" height="16" fill="#32cd32"/>
<rect x="286" y="331" width="3" height="11" fill="#32cd32"/>
<rect x="291" y="330" width="1" height="15" fill="#ff0000"/>
<rect x="290" y="331" width="3" height="11" fill="#ff0000"/>
<rect x="295" y="327" width="1" height="5" fill="#ff0000"/>
<rect x="294" y="328" width="3" height="4" fill="#ff0000"/>
<rect x="299" y="313" width="1" height="26" fill="#ff0000"/>
<rect x="298" y="316" width="3" height="14" fill="#ff0000"/>
<rect x="303" y="309" width="1" height="17" fill="#ff0000"/>
<rect x="302" y="313" width="3" height="4" fill="#ff0000"/>
<rect x="307" y="299" width="1" height="16" fill="#ff0000"/>
<rect x="306" y="311" width="3" height="3" fill="#ff0000"/>
<rect x="311" y="303" width="1" height="15" fill="#ff0000"/>
<rect x="310" y="306" width="3" height="6" fill="#ff0000"/>
<rect x="315" y="305" width="1" height="53" fill="#32cd32"/>
<rect x="314" y="306" width="3" height="52" fill="#32cd32"/>
<rect x="319" y="343" width="1" height="12" fill="#ff0000"/>
<rect x="318" y="347" width="3" height="6" fill="#ff0000"/>
<rect x="323" y="336" width="1" height="18" fill="#32cd32"/>
<rect x="322" y="346" width="3" height="7" fill="#32cd32"/>
<rect x="327" y="338" width="1" height="42" fill="#32cd32"/>
<rect x="326" y="352" width="3" height="13" fill="#32cd32"/>
<rect x="331" y="356" width="1" height="19" fill="#ff0000"/>
<rect x="330" y="361" width="3" height="5" fill="#ff0000"/>
<rect x="335" y="355" width="1" height="17" fill="#32cd32"/>
<rect x="334" y="360" width="3" height="4" fill="#32cd32"/>
<rect x="339" y="356" width="1" height="20" fill="#32cd32"/>
<rect x="338" y="363" width="3" height="10" fill="#32cd32"/>
<rect x="343" y="367" width="1" height="7" fill="#ff0000"/>
<rect x="342" y="368" width="3" height="6" fill="#ff0000"/>
<rect x="347" y="337" width="1" height="32" fill="#ff0000"/>
<rect x="346" y="342" width="3" height="26" fill="#ff0000"/>
<rect x="351" y="335" width="1" height="16" fill="#32cd32"/>
<rect x="350" y="342" width="3" height="5" fill="#32cd32"/>
<rect x="355" y="343" width="1" height="23" fill="#32cd32"/>
<rect x="354" y="346" width="3" height="16" fill="#32cd32"/>
<rect x="359" y="339" width="1" height="25" fill="#ff0000"/>
<rect x="358" y="349" width="3" height="15" fill="#ff0000"/>
<rect x="363" y="344" width="1" height="20" fill="#32cd32"/>
<rect x="362" y="349" width="3" height="11" fill="#32cd32"/>
<rect x="367" y="358" width="1" height="4" fill="#ff0000"/>
<rect x="366" y="358" width="3" height="4" fill="#ff0000"/>
<rect x="371" y="342" width="1" height="20" fill="#ff0000"/>
<rect x="370" y="354" width="3" height="5" fill="#ff0000"/>
<rect x="375" y="346" width="1" height="22" fill="#ff0000"/>
<rect x="374" y="347" width="3" height="8" fill="#ff0000"/>
<rect x="379" y="328" width="1" height="22" fill="#ff0000"/>
<rect x="378" y="346" width="3" height="2" fill="#ff0000"/>
<rect x="383" y="342" width="1" height="26" fill="#32cd32"/>
<rect x="382" y="346" width="3" height="21" fill="#32cd32"/>
<rect x="387" y="346" width="1" height="27" fill="#ff0000"/>
<rect x="386" y="349" width="3" height="18" fill="#ff0000"/>
<rect x="391" y="347" width="1" height="4" fill="#32cd32"/>
<rect x="390" y="347" width="3" height="4" fill="#32cd32"/>
<rect x="395" y="344" width="1" height="23" fill="#32cd32"/>
<rect x="394" y="350" width="3" height="7" fill="#32cd32"/>
<rect x="399" y="343" width="1" height="23" fill="#ff0000"/>
<rect x="398" y="352" width="3" height="5" fill="#ff0000"/>
<rect x="403" y="343" width="1" height="24" fill="#32cd32"/>
<rect x="402" y="352" width="3" height="14" fill="#32cd32"/>
<rect x="407" y="356" width="1" height="17" fill="#32cd32"/>
<rect x="406" y="364" width="3" height="6" fill="#32cd32"/>
<rect x="411" y="364" width="1" height="13" fill="#ff0000"/>
<rect x="410" y="368" width="3" height="2" fill="#ff0000"/>
<rect x="415" y="367" width="1" height="7" fill="#ff0000"/>
<rect x="414" y="367" width="3" height="2" fill="#ff0000"/>
<rect x="419" y="363" width="1" height="13" fill="#32cd32"/>
<rect x="418" y="366" width="3" height="8" fill="#32cd32"/>
<rect x="423" y="366" width="1" height="13" fill="#32cd32"/>
<rect x="422" y="372" width="3" height="2" fill="#32cd32"/>
<rect x="427" y="362" width="1" height="29" fill="#32cd32"/>
<rect x="426" y="373" width="3" height="13" fill="#32cd32"/>
<rect x="435" y="382" width="1" height="17" fill="#32cd32"/>
<rect x="434" y="385" width="3" height="9" fill="#32cd32"/>
<rect x="439" y="391" width="1" height="8" fill="#ff0000"/>
<rect x="438" y="392" width="3" height="7" fill="#ff0000"/>
<rect x="443" y="363" width="1" height="32" fill="#ff0000"/>
<rect x="442" y="369" width="3" height="24" fill="#ff0000"/>
<rect x="447" y="365" width="1" height="22" fill="#32cd32"/>
<rect x="446" y="369" width="3" height="9" fill="#32cd32"/>
<rect x="451" y="369" width="1" height="17" fill="#ff0000"/>
<rect x="450" y="372" width="3" height="6" fill="#ff0000"/>
<rect x="455" y="354" width="1" height="20" fill="#ff0000"/>
<rect x="454" y="357" width="3" height="16" fill="#ff0000"/>
<rect x="459" y="351" width="1" height="19" fill="#32cd32"/>
<rect x="458" y="357" width="3" height="12" fill="#32cd32"/>
<rect x="463" y="366" width="1" height="4" fill="#ff0000"/>
<rect x="462" y="366" width="3" height="4" fill="#ff0000"/>
<rect x="467" y="335" width="1" height="34" fill="#ff0000"/>
<rect x="466" y="336" width="3" height="32" fill="#ff0000"/>
<rect x="471" y="334" width="1" height="19" fill="#32cd32"/>
<rect x="470" y="336" width="3" height="15" fill="#32cd32"/>
<rect x="475" y="346" width="1" height="44" fill="#32cd32"/>
<rect x="474" y="350" width="3" height="35" fill="#32cd32"/>
<rect x="479" y="382" width="1" height="22" fill="#32cd32"/>
<rect x="478" y="384" width="3" height="14" fill="#32cd32"/>
<rect x="483" y="384" width="1" height="19" fill="#ff0000"/>
<rect x="482" y="386" width="3" height="12" fill="#ff0000"/>
<rect x="487" y="382" width="1" height="8" fill="#ff0000"/>
<rect x="486" y="383" width="3" height="7" fill="#ff0000"/>
<rect x="491" y="378" width="1" height="15" fill="#32cd32"/>
<rect x="490" y="383" width="3" height="4" fill="#32cd32"/>
<rect x="495" y="370" width="1" height="19" fill="#ff0000"/>
<rect x="494" y="372" width="3" height="14" fill="#ff0000"/>
<rect x="499" y="371" width="1" height="13" fill="#32cd32"/>
<rect x="498" y="372" width="3" height="7" fill="#32cd32"/>
<rect x="503" y="370" width="1" height="16" fill="#ff0000"/>
<rect x="502" y="374" width="3" height="6" fill="#ff0000"/>
<rect x="507" y="373" width="1" height="25" fill="#32cd32"/>
<rect x="506" y="374" width="3" height="21" fill="#32cd32"/>
<rect x="511" y="390" width="1" height="6" fill="#ff0000"/>
<rect x="510" y="390" width="3" height="6" fill="#ff0000"/>
<rect x="515" y="378" width="1" height="19" fill="#ff0000"/>
<rect x="514" y="385" width="3" height="6" fill="#ff0000"/>
<rect x="519" y="361" width="1" height="25" fill="#ff0000"/>
<rect x="518" y="370" width="3" height="16" fill="#ff0000"/>
<rect x="523" y="346" width="1" height="28" fill="#ff0000"/>
<rect x="522" y="348" width="3" height="25" fill="#ff0000"/>
<rect x="527" y="312" width="1" height="38" fill="#ff0000"/>
<rect x="526" y="321" width="3" height="28" fill="#ff0000"/>
<rect x="531" y="315" width="1" height="15" fill="#32cd32"/>
<rect x="530" y="322" width="3" height="1" fill="#32cd32"/>
<rect x="535" y="320" width="1" height="4" fill="#ff0000"/>
<rect x="534" y="320" width="3" height="4" fill="#ff0000"/>
<rect x="539" y="310" width="1" height="35" fill="#32cd32"/>
<rect x="538" y="321" width="3" height="17" fill="#32cd32"/>
<rect x="543" y="334" width="1" height="27" fill="#32cd32"/>
<rect x="542" y="336" width="3" height="24" fill="#32cd32"/>
<rect x="547" y="355" width="1" height="17" fill="#32cd32"/>
<rect x="546" y="359" width="3" height="8" fill="#32cd32"/>
<rect x="551" y="350" width="1" height="22" fill="#ff0000"/>
<rect x="550" y="360" width="3" height="7" fill="#ff0000"/>
<rect x="555" y="341" width="1" height="22" fill="#ff0000"/>
<rect x="554" y="342" width="3" height="20" fill="#ff0000"/>
<rect x="559" y="342" width="1" height="2" fill="#32cd32"/>
<rect x="558" y="342" width="3" height="2" fill="#32cd32"/>
<rect x="563" y="340" width="1" height="14" fill="#32cd32"/>
<rect x="562" y="343" width="3" height="9" fill="#32cd32"/>
<rect x="567" y="340" width="1" height="14" fill="#ff0000"/>
<rect x="566" y="344" width="3" height="8" fill="#ff0000"/>
<rect x="571" y="343" width="1" height="13" fill="#32cd32"/>
<rect x="570" y="344" width="3" height="4" fill="#32cd32"/>
<rect x="575" y="327" width="1" height="27" fill="#ff0000"/>
<rect x="574" y="341" width="3" height="7" fill="#ff0000"/>
<rect x="579" y="331" width="1" height="17" fill="#32cd32"/>
<rect x="578" y="341" width="3" height="3" fill="#32cd32"/>
<rect x="583" y="344" width="1" height="2" fill="#ff0000"/>
<rect x="582" y="344" width="3" height="2" fill="#ff0000"/>
<rect x="587" y="336" width="1" height="13" fill="#32cd32"/>
<rect x="586" y="344" width="3" height="3" fill="#32cd32"/>
<rect x="591" y="335" width="1" height="19" fill="#ff0000"/>
<rect x="590" y="342" width="3" height="6" fill="#ff0000"/>
<rect x="595" y="340" width="1" height="18" fill="#32cd32"/>
<rect x="594" y="342" width="3" height="14" fill="#32cd32"/>
<rect x="599" y="352" width="1" height="16" fill="#32cd32"/>
<rect x="598" y="356" width="3" height="8" fill="#32cd32"/>
<rect x="603" y="356" width="1" height="11" fill="#ff0000"/>
<rect x="602" y="359" width="3" height="5" fill="#ff0000"/>
<rect x="607" y="358" width="1" height="3" fill="#32cd32"/>
<rect x="606" y="359" width="3" height="1" fill="#32cd32"/>
<rect x="611" y="357" width="1" height="25" fill="#32cd32"/>
<rect x="610" y="359" width="3" height="20" fill="#32cd32"/>
<rect x="615" y="353" width="1" height="29" fill="#ff0000"/>
<rect x="614" y="357" width="3" height="22" fill="#ff0000"/>
<rect x="619" y="356" width="1" height="20" fill="#32cd32"/>
<rect x="618" y="357" width="3" height="16" fill="#32cd32"/>
<rect x="623" y="330" width="1" height="44" fill="#ff0000"/>
<rect x="622" y="341" width="3" height="32" fill="#ff0000"/>
<rect x="627" y="332" width="1" height="20" fill="#ff0000"/>
<rect x="626" y="339" width="3" height="3" fill="#ff0000"/>
<rect x="631" y="335" width="1" height="10" fill="#ff0000"/>
<rect x="630" y="338" width="3" height="3" fill="#ff0000"/>
<rect x="635" y="334" width="1" height="42" fill="#32cd32"/>
<rect x="634" y="338" width="3" height="35" fill="#32cd32"/>
<rect x="639" y="361" width="1" height="21" fill="#ff0000"/>
<rect x="638" y="368" width="3" height="4" fill="#ff0000"/>
<rect x="643" y="348" width="1" height="28" fill="#ff0000"/>
<rect x="642" y="361" width="3" height="8" fill="#ff0000"/>
<rect x="647" y="357" width="1" height="18" fill="#32cd32"/>
<rect x="646" y="360" width="3" height="12" fill="#32cd32"/>
<rect x="651" y="359" width="1" height="17" fill="#ff0000"/>
<rect x="650" y="369" width="3" height="3" fill="#ff0000"/>
<rect x="655" y="360" width="1" height="16" fill="#ff0000"/>
<rect x="654" y="362" width="3" height="14" fill="#ff0000"/>
<rect x="659" y="336" width="1" height="30" fill="#ff0000"/>
<rect x="658" y="343" width="3" height="20" fill="#ff0000"/>
<rect x="663" y="323" width="1" height="23" fill="#ff0000"/>
<rect x="662" y="327" width="3" height="17" fill="#ff0000"/>
<rect x="667" y="324" width="1" height="21" fill="#32cd32"/>
<rect x="666" y="327" width="3" height="12" fill="#32cd32"/>
<rect x="671" y="322" width="1" height="21" fill="#ff0000"/>
<rect x="670" y="328" width="3" height="11" fill="#ff0000"/>
<rect x="675" y="307" width="1" height="23" fill="#ff0000"/>
<rect x="674" y="308" width="3" height="21" fill="#ff0000"/>
<rect x="679" y="307" width="1" height="3" fill="#32cd32"/>
<rect x="678" y="308" width="3" height="1" fill="#32cd32"/>
<rect x="683" y="294" width="1" height="25" fill="#ff0000"/>
<rect x="682" y="294" width="3" height="15" fill="#ff0000"/>
<rect x="687" y="277" width="1" height="23" fill="#ff0000"/>
<rect x="686" y="285" width="3" height="10" fill="#ff0000"/>
<rect x="691" y="267" width="1" height="26" fill="#ff0000"/>
<rect x="690" y="283" width="3" height="4" fill="#ff0000"/>
<rect x="695" y="281" width="1" height="32" fill="#32cd32"/>
<rect x="694" y="283" width="3" height="21" fill="#32cd32"/>
<rect x="699" y="295" width="1" height="26" fill="#32cd32"/>
<rect x="698" y="303" width="3" height="17" fill="#32cd32"/>
<rect x="703" y="314" width="1" height="2" fill="#ff0000"/>
<rect x="702" y="314" width="3" height="2" fill="#ff0000"/>
<rect x="707" y="306" width="1" height="23" fill="#ff0000"/>
<rect x="706" y="311" width="3" height="5" fill="#ff0000"/>
<rect x="711" y="298" width="1" height="24" fill="#32cd32"/>
<rect x="710" y="311" width="3" height="3" fill="#32cd32"/>
<rect x="715" y="304" width="1" height="23" fill="#32cd32"/>
<rect x="714" y="312" width="3" height="12" fill="#32cd32"/>
<rect x="719" y="310" width="1" height="19" fill="#32cd32"/>
<rect x="718" y="323" width="3" height="5" fill="#32cd32"/>
<rect x="723" y="321" width="1" height="20" fill="#ff0000"/>
<rect x="722" y="323" width="3" height="5" fill="#ff0000"/>
<rect x="727" y="320" width="1" height="3" fill="#ff0000"/>
<rect x="726" y="320" width="3" height="3" fill="#ff0000"/>
<rect x="731" y="296" width="1" height="28" fill="#ff0000"/>
<rect x="730" y="313" width="3" height="9" fill="#ff0000"/>
<rect x="735" y="298" width="1" height="29" fill="#32cd32"/>
<rect x="734" y="313" width="3" height="9" fill="#32cd32"/>
<rect x="739" y="321" width="1" height="35" fill="#32cd32"/>
<rect x="738" y="321" width="3" height="31" fill="#32cd32"/>
<rect x="743" y="341" width="1" height="25" fill="#32cd32"/>
<rect x="742" y="351" width="3" height="1" fill="#32cd32"/>
<rect x="747" y="333" width="1" height="23" fill="#ff0000"/>
<rect x="746" y="341" width="3" height="11" fill="#ff0000"/>
<rect x="751" y="340" width="1" height="2" fill="#32cd32"/>
<rect x="750" y="340" width="3" height="2" fill="#32cd32"/>
<rect x="755" y="333" width="1" height="14" fill="#ff0000"/>
<rect x="754" y="339" width="3" height="3" fill="#ff0000"/>
<rect x="759" y="326" width="1" height="24" fill="#ff0000"/>
<rect x="758" y="328" width="3" height="12" fill="#ff0000"/>
<rect x="763" y="307" width="1" height="21" fill="#ff0000"/>
<rect x="762" y="314" width="3" height="14" fill="#ff0000"/>
<rect x="767" y="307" width="1" height="13" fill="#ff0000"/>
<rect x="766" y="309" width="3" height="6" fill="#ff0000"/>
<rect x="771" y="298" width="1" height="19" fill="#32cd32"/>
<rect x="770" y="309" width="3" height="4" fill="#32cd32"/>
<rect x="775" y="311" width="1" height="2" fill="#ff0000"/>
<rect x="774" y="311" width="3" height="2" fill="#ff0000"/>
<rect x="779" y="299" width="1" height="27" fill="#32cd32"/>
<rect x="778" y="310" width="3" height="14" fill="#32cd32"/>
<rect x="783" y="309" width="1" height="23" fill="#ff0000"/>
<rect x="782" y="316" width="3" height="5" fill="#ff0000"/>
<rect x="787" y="305" width="1" height="17" fill="#ff0000"/>
<rect x="786" y="311" width="3" height="6" fill="#ff0000"/>
<rect x="791" y="276" width="1" height="42" fill="#ff0000"/>
<rect x="790" y="278" width="3" height="34" fill="#ff0000"/>
<rect x="795" y="273" width="1" height="13" fill="#32cd32"/>
<rect x="794" y="279" width="3" height="1" fill="#32cd32"/>
<rect x="799" y="279" width="1" height="2" fill="#ff0000"/>
<rect x="798" y="279" width="3" height="1" fill="#ff0000"/>
<rect x="803" y="269" width="1" height="13" fill="#ff0000"/>
<rect x="802" y="271" width="3" height="10" fill="#ff0000"/>
<rect x="807" y="243" width="1" height="33" fill="#ff0000"/>
<rect x="806" y="244" width="3" height="28" fill="#ff0000"/>
<rect x="811" y="238" width="1" height="31" fill="#32cd32"/>
<rect x="810" y="244" width="3" height="12" fill="#32cd32"/>
<rect x="815" y="233" width="1" height="34" fill="#ff0000"/>
<rect x="814" y="238" width="3" height="18" fill="#ff0000"/>
<rect x="819" y="217" width="1" height="25" fill="#ff0000"/>
<rect x="818" y="226" width="3" height="13" fill="#ff0000"/>
<rect x="823" y="227" width="1" height="5" fill="#32cd32"/>
<rect x="822" y="227" width="3" height="5" fill="#32cd32"/>
<rect x="827" y="216" width="1" height="19" fill="#ff0000"/>
<rect x="826" y="219" width="3" height="14" fill="#ff0000"/>
<rect x="831" y="205" width="1" height="24" fill="#ff0000"/>
<rect x="830" y="206" width="3" height="14" fill="#ff0000"/>
<rect x="835" y="177" width="1" height="31" fill="#ff0000"/>
<rect x="834" y="182" width="3" height="24" fill="#ff0000"/>
<rect x="839" y="157" width="1" height="29" fill="#ff0000"/>
<rect x="838" y="171" width="3" height="12" fill="#ff0000"/>
<rect x="843" y="165" width="1" height="24" fill="#32cd32"/>
<rect x="842" y="171" width="3" height="4" fill="#32cd32"/>
<rect x="847" y="162" width="1" height="4" fill="#ff0000"/>
<rect x="846" y="162" width="3" height="4" fill="#ff0000"/>
<rect x="851" y="145" width="1" height="28" fill="#ff0000"/>
<rect x="850" y="149" width="3" height="15" fill="#ff0000"/>
<rect x="855" y="141" width="1" height="30" fill="#ff0000"/>
<rect x="854" y="145" width="3" height="6" fill="#ff0000"/>
<rect x="859" y="121" width="1" height="50" fill="#32cd32"/>
<rect x="858" y="145" width="3" height="21" fill="#32cd32"/>
<rect x="863" y="107" width="1" height="68" fill="#ff0000"/>
<rect x="862" y="121" width="3" height="46" fill="#ff0000"/>
<rect x="867" y="108" width="1" height="24" fill="#ff0000"/>
<rect x="866" y="111" width="3" height="11" fill="#ff0000"/>
<rect x="871" y="106" width="1" height="4" fill="#ff0000"/>
<rect x="870" y="106" width="3" height="4" fill="#ff0000"/>
<rect x="875" y="79" width="1" height="29" fill="#ff0000"/>
<rect x="874" y="92" width="3" height="16" fill="#ff0000"/>
<rect x="879" y="76" width="1" height="27" fill="#ff0000"/>
<rect x="878" y="82" width="3" height="11" fill="#ff0000"/>
<rect x="883" y="80" width="1" height="35" fill="#32cd32"/>
<rect x="882" y="82" width="3" height="6" fill="#32cd32"/>
<rect x="887" y="48" width="1" height="45" fill="#ff0000"/>
<rect x="886" y="54" width="3" height="34" fill="#ff0000"/>
<rect x="891" y="49" width="1" height="22" fill="#32cd32"/>
<rect x="890" y="55" width="3" height="2" fill="#32cd32"/>
<rect x="895" y="55" width="1" height="5" fill="#ff0000"/>
<rect x="894" y="58" width="3" height="1" fill="#ff0000"/>
<rect x="899" y="43" width="1" height="22" fill="#32cd32"/>
<rect x="898" y="58" width="3" height="2" fill="#32cd32"/>
<rect x="903" y="58" width="1" height="40" fill="#32cd32"/>
<rect x="902" y="60" width="3" height="31" fill="#32cd32"/>
<rect x="907" y="72" width="1" height="47" fill="#32cd32"/>
<rect x="906" y="90" width="3" height="25" fill="#32cd32"/>
<rect x="911" y="113" width="1" height="67" fill="#32cd32"/>
<rect x="910" y="114" width="3" height="56" fill="#32cd32"/>
<rect x="915" y="154" width="1" height="27" fill="#ff0000"/>
<rect x="914" y="156" width="3" height="14" fill="#ff0000"/>
<rect x="919" y="159" width="1" height="3" fill="#ff0000"/>
<rect x="918" y="159" width="3" height="3" fill="#ff0000"/>
<rect x="923" y="159" width="1" height="47" fill="#32cd32"/>
<rect x="922" y="159" width="3" height="35" fill="#32cd32"/>
<rect x="179" y="336" width="1" height="19" fill="#000"/>
<rect x="178" y="350" width="3" height="1" fill="#000"/>
<rect x="431" y="370" width="1" height="19" fill="#000"/>
<rect x="430" y="386" width="3" height="1" fill="#000"/>
<rect x="3" y="473" width="2" height="2" fill="#c0c0c0"/>
<rect x="6" y="473" width="3" height="1" fill="#c0c0c0"/>
<rect x="10" y="473" width="3" height="1" fill="#c0c0c0"/>
<rect x="14" y="473" width="3" height="1" fill="#c0c0c0"/>
<rect x="18" y="473" width="3" height="1" fill="#c0c0c0"/>
<rect x="22" y="473" width="3" height="1" fill="#c0c0c0"/>
<rect x="26" y="473" width="3" height="1" fill="#c0c0c0"/>
<rect x="30" y="473" width="3" height="1" fill="#c0c0c0"/>
<rect x="34" y="473" width="3" height="1" fill="#c0c0c0"/>
<rect x="38" y="472" width="3" height="1" fill="#c0c0c0"/>
<rect x="42" y="471" width="3" height="2" fill="#c0c0c0"/>
<rect x="46" y="471" width="3" height="2" fill="#c0c0c0"/>
<rect x="50" y="471" width="3" height="2" fill="#c0c0c0"/>
<rect x="54" y="470" width="3" height="3" fill="#c0c0c0"/>
<rect x="58" y="469" width="3" height="4" fill="#c0c0c0"/>
<rect x="62" y="468" width="3" height="5" fill="#c0c0c0"/>
<rect x="66" y="468" width="3" height="5" fill="#c0c0c0"/>
<rect x="70" y="466" width="3" height="7" fill="#c0c0c0"/>
<rect x="74" y="463" width="3" height="10" fill="#c0c0c0"/>
<rect x="78" y="461" width="3" height="12" fill="#c0c0c0"/>
<rect x="82" y="460" width="3" height="13" fill="#c0c0c0"/>
<rect x="86" y="461" width="3" height="12" fill="#c0c0c0"/>
<rect x="90" y="461" width="3" height="12" fill="#c0c0c0"/>
<rect x="94" y="463" width="3" height="10" fill="#c0c0c0"/>
<rect x="98" y="463" width="3" height="10" fill="#c0c0c0"/>
<rect x="102" y="463" width="3" height="10" fill="#c0c0c0"/>
<rect x="106" y="464" width="3" height="9" fill="#c0c0c0"/>
<rect x="110" y="463" width="3" height="10" fill="#c0c0c0"/>
<rect x="114" y="461" width="3" height="12" fill="#c0c0c0"/>
<rect x="118" y="460" width="3" height="13" fill="#c0c0c0"/>
<rect x="122" y="461" width="3" height="12" fill="#c0c0c0"/>
<rect x="126" y="461" width="3" height="12" fill="#c0c0c0"/>
<rect x="130" y="463" width="3" height="10" fill="#c0c0c0"/>
<rect x="134" y="463" width="3" height="10" fill="#c0c0c0"/>
<rect x="138" y="464" width="3" height="9" fill="#c0c0c0"/>
<rect x="142" y="465" width="3" height="8" fill="#c0c0c0"/>
<rect x="146" y="466" width="3" height="7" fill="#c0c0c0"/>
<rect x="150" y="466" width="3" height="7" fill="#c0c0c0"/>
<rect x="154" y="467" width="3" height="6" fill="#c0c0c0"/>
<rect x="158" y="467" width="3" height="6" fill="#c0c0c0"/>
<rect x="162" y="468" width="3" height="5" fill="#c0c0c0"/>
<rect x="166" y="470" width="3" height="3" fill="#c0c0c0"/>
<rect x="170" y="472" width="3" height="1" fill="#c0c0c0"/>
<rect x="174" y="472" width="3" height="1" fill="#c0c0c0"/>
<rect x="178" y="473" width="3" height="1" fill="#c0c0c0"/>
<rect x="182" y="473" width="3" height="1" fill="#c0c0c0"/>
<rect x="186" y="473" width="3" height="3" fill="#c0c0c0"/>
<rect x="190" y="473" width="3" height="4" fill="#c0c0c0"/>
<rect x="194" y="473" width="3" height="6" fill="#c0c0c0"/>
<rect x="198" y="473" width="3" height="7" fill="#c0c0c0"/>
<rect x="202" y="473" width="3" height="7" fill="#c0c0c0"/>
<rect x="206" y="473" width="3" height="7" fill="#c0c0c0"/>
<rect x="210" y="473" width="3" height="8" fill="#c0c0c0"/>
<rect x="214" y="473" width="3" height="10" fill="#c0c0c0"/>
<rect x="218" y="473" width="3" height="10" fill="#c0c0c0"/>
<rect x="222" y="473" width="3" height="10" fill="#c0c0c0"/>
<rect x="226" y="473" width="3" height="12" fill="#c0c0c0"/>
<rect x="230" y="473" width="3" height="12" fill="#c0c0c0"/>
<rect x="234" y="473" width="3" height="11" fill="#c0c0c0"/>
<rect x="238" y="473" width="3" height="11" fill="#c0c0c0"/>
<rect x="242" y="473" width="3" height="11" fill="#c0c0c0"/>
<rect x="246" y="473" width="3" height="11" fill="#c0c0c0"/>
<rect x="250" y="473" width="3" height="11" fill="#c0c0c0"/>
<rect x="254" y="473" width="3" height="11" fill="#c0c0c0"/>
<rect x="258" y="473" width="3" height="10" fill="#c0c0c0"/>
<rect x="262" y="473" width="3" height="7" fill="#c0c0c0"/>
<rect x="266" y="473" width="3" height="5" fill="#c0c0c0"/>
<rect x="270" y="473" width="3" height="3" fill="#c0c0c0"/>
<rect x="274" y="473" width="3" height="1" fill="#c0c0c0"/>
<rect x="278" y="470" width="3" height="3" fill="#c0c0c0"/>
<rect x="282" y="468" width="3" height="5" fill="#c0c0c0"/>
<rect x="286" y="467" width="3" height="6" fill="#c0c0c0"/>
<rect x="290" y="466" width="3" height="7" fill="#c0c0c0"/>
<rect x="294" y="464" width="3" height="9" fill="#c0c0c0"/>
<rect x="298" y="463" width="3" height="10" fill="#c0c0c0"/>
<rect x="302" y="461" width="3" height="12" fill="#c0c0c0"/>
<rect x="306" y="460" width="3" height="13" fill="#c0c0c0"/>
<rect x="310" y="458" width="3" height="15" fill="#c0c0c0"/>
<rect x="314" y="461" width="3" height="12" fill="#c0c0c0"/>
<rect x="318" y="463" width="3" height="10" fill="#c0c0c0"/>
<rect x="322" y="465" width="3" height="8" fill="#c0c0c0"/>
<rect x="326" y="468" width="3" height="5" fill="#c0c0c0"/>
<rect x="330" y="470" width="3" height="3" fill="#c0c0c0"/>
<rect x="334" y="471" width="3" height="2" fill="#c0c0c0"/>
<rect x="338" y="473" width="3" height="1" fill="#c0c0c0"/>
<rect x="342" y="473" width="3" height="2" fill="#c0c0c0"/>
<rect x="346" y="473" width="3" height="1" fill="#c0c0c0"/>
<rect x="350" y="473" width="3" height="1" fill="#c0c0c0"/>
<rect x="354" y="473" width="3" height="2" fill="#c0c0c0"/>
<rect x="358" y="473" width="3" height="1" fill="#c0c0c0"/>
<rect x="362" y="473" width="3" height="2" fill="#c0c0c0"/>
<rect x="366" y="473" width="3" height="1" fill="#c0c0c0"/>
<rect x="370" y="473" width="3" height="2" fill="#c0c0c0"/>
<rect x="374" y="473" width="3" height="1" fill="#c0c0c0"/>
<rect x="378" y="473" width="3" height="1" fill="#c0c0c0"/>
<rect x="382" y="473" width="3" height="1" fill="#c0c0c0"/>
<rect x="386" y="473" width="3" height="2" fill="#c0c0c0"/>
<rect x="390" y="473" width="3" height="1" fill="#c0c0c0"/>
<rect x="394" y="473" width="3" height="2" fill="#c0c0c0"/>
<rect x="398" y="473" width="3" height="1" fill="#c0c0c0"/>
<rect x="402" y="473" width="3" height="2" fill="#c0c0c0"/>
<rect x="406" y="473" width="3" height="3" fill="#c0c0c0"/>
<rect x="410" y="473" width="3" height="3" fill="#c0c0c0"/>
<rect x="414" y="473" width="3" height="3" fill="#c0c0c0"/>
<rect x="418" y="473" width="3" height="4" fill="#c0c0c0"/>
<rect x="422" y="473" width="3" height="5" fill="#c0c0c0"/>
<rect x="426" y="473" width="3" height="7" fill="#c0c0c0"/>
<rect x="430" y="473" width="3" height="8" fill="#c0c0c0"/>
<rect x="434" y="473" width="3" height="9" fill="#c0c0c0"/>
<rect x="438" y="473" width="3" height="10" fill="#c0c0c0"/>
<rect x="442" y="473" width="3" height="9" fill="#c0c0c0"/>
<rect x="446" y="473" width="3" height="8" fill="#c0c0c0"/>
<rect x="450" y="473" width="3" height="7" fill="#c0c0c0"/>
<rect x="454" y="473" width="3" height="6" fill="#c0c0c0"/>
<rect x="458" y="473" width="3" height="5" fill="#c0c0c0"/>
<rect x="462" y="473" width="3" height="4" fill="#c0c0c0"/>
<rect x="466" y="473" width="3" height="1" fill="#c0c0c0"/>
<rect x="470" y="473" width="3" height="1" fill="#c0c0c0"/>
<rect x="474" y="473" width="3" height="2" fill="#c0c0c0"/>
<rect x="478" y="473" width="3" height="3" fill="#c0c0c0"/>
<rect x="482" y="473" width="3" height="4" fill="#c0c0c0"/>
<rect x="486" y="473" width="3" height="4" fill="#c0c0c0"/>
<rect x="490" y="473" width="3" height="5" fill="#c0c0c0"/>
<rect x="494" y="473" width="3" height="4" fill="#c0c0c0"/>
<rect x="498" y="473" width="3" height="4" fill="#c0c0c0"/>
<rect x="502" y="473" width="3" height="4" fill="#c0c0c0"/>
<rect x="506" y="473" width="3" height="5" fill="#c0c0c0"/>
<rect x="510" y="473" width="3" height="5" fill="#c0c0c0"/>
<rect x="514" y="473" width="3" height="5" fill="#c0c0c0"/>
<rect x="518" y="473" width="3" height="4" fill="#c0c0c0"/>
<rect x="522" y="473" width="3" height="2" fill="#c0c0c0"/>
<rect x="526" y="470" width="3" height="3" fill="#c0c0c0"/>
<rect x="530" y="467" width="3" height="6" fill="#c0c0c0"/>
<rect x="534" y="464" width="3" height="9" fill="#c0c0c0"/>
<rect x="538" y="464" width="3" height="9" fill="#c0c0c0"/>
<rect x="542" y="465" width="3" height="8" fill="#c0c0c0"/>
<rect x="546" y="467" width="3" height="6" fill="#c0c0c0"/>
<rect x="550" y="468" width="3" height="5" fill="#c0c0c0"/>
<rect x="554" y="467" width="3" height="6" fill="#c0c0c0"/>
<rect x="558" y="467" width="3" height="6" fill="#c0c0c0"/>
<rect x="562" y="467" width="3" height="6" fill="#c0c0c0"/>
<rect x="566" y="467" width="3" height="6" fill="#c0c0c0"/>
<rect x="570" y="468" width="3" height="5" fill="#c0c0c0"/>
<rect x="574" y="468" width="3" height="5" fill="#c0c0c0"/>
<rect x="578" y="468" width="3" height="5" fill="#c0c0c0"/>
<rect x="582" y="468" width="3" height="5" fill="#c0c0c0"/>
<rect x="586" y="468" width="3" height="5" fill="#c0c0c0"/>
<rect x="590" y="468" width="3" height="5" fill="#c0c0c0"/>
<rect x="594" y="468" width="3" height="5" fill="#c0c0c0"/>
<rect x="598" y="470" width="3" height="3" fill="#c0c0c0"/>
<rect x="602" y="471" width="3" height="2" fill="#c0c0c0"/>
<rect x="606" y="472" width="3" height="1" fill="#c0c0c0"/>
<rect x="610" y="473" width="3" height="2" fill="#c0c0c0"/>
<rect x="614" y="473" width="3" height="2" fill="#c0c0c0"/>
<rect x="618" y="473" width="3" height="3" fill="#c0c0c0"/>
<rect x="622" y="473" width="3" height="1" fill="#c0c0c0"/>
<rect x="626" y="473" width="3" height="1" fill="#c0c0c0"/>
<rect x="630" y="472" width="3" height="1" fill="#c0c0c0"/>
<rect x="634" y="473" width="3" height="1" fill="#c0c0c0"/>
<rect x="638" y="473" width="3" height="1" fill="#c0c0c0"/>
<rect x="642" y="473" width="3" height="2" fill="#c0c0c0"/>
<rect x="646" y="473" width="3" height="3" fill="#c0c0c0"/>
<rect x="650" y="473" width="3" height="3" fill="#c0c0c0"/>
<rect x="654" y="473" width="3" height="3" fill="#c0c0c0"/>
<rect x="658" y="473" width="3" height="2" fill="#c0c0c0"/>
<rect x="662" y="471" width="3" height="2" fill="#c0c0c0"/>
<rect x="666" y="470" width="3" height="3" fill="#c0c0c0"/>
<rect x="670" y="469" width="3" height="4" fill="#c0c0c0"/>
<rect x="674" y="466" width="3" height="7" fill="#c0c0c0"/>
<rect x="678" y="464" width="3" height="9" fill="#c0c0c0"/>
<rect x="682" y="461" width="3" height="12" fill="#c0c0c0"/>
<rect x="686" y="459" width="3" height="14" fill="#c0c0c0"/>
<rect x="690" y="457" width="3" height="16" fill="#c0c0c0"/>
<rect x="694" y="457" width="3" height="16" fill="#c0c0c0"/>
<rect x="698" y="458" width="3" height="15" fill="#c0c0c0"/>
<rect x="702" y="459" width="3" height="14" fill="#c0c0c0"/>
<rect x="706" y="460" width="3" height="13" fill="#c0c0c0"/>
<rect x="710" y="461" width="3" height="12" fill="#c0c0c0"/>
<rect x="714" y="462" width="3" height="11" fill="#c0c0c0"/>
<rect x="718" y="464" width="3" height="9" fill="#c0c0c0"/>
<rect x="722" y="465" width="3" height="8" fill="#c0c0c0"/>
<rect x="726" y="466" width="3" height="7" fill="#c0c0c0"/>
<rect x="730" y="466" width="3" height="7" fill="#c0c0c0"/>
<rect x="734" y="467" width="3" height="6" fill="#c0c0c0"/>
<rect x="738" y="470" width="3" height="3" fill="#c0c0c0"/>
<rect x="742" y="472" width="3" height="1" fill="#c0c0c0"/>
<rect x="746" y="473" width="3" height="1" fill="#c0c0c0"/>
<rect x="750" y="473" width="3" height="2" fill="#c0c0c0"/>
<rect x="754" y="473" width="3" height="3" fill="#c0c0c0"/>
<rect x="758" y="473" width="3" height="2" fill="#c0c0c0"/>
<rect x="762" y="473" width="3" height="1" fill="#c0c0c0"/>
<rect x="766" y="472" width="3" height="1" fill="#c0c0c0"/>
<rect x="770" y="470" width="3" height="3" fill="#c0c0c0"/>
<rect x="774" y="469" width="3" height="4" fill="#c0c0c0"/>
<rect x="778" y="469" width="3" height="4" fill="#c0c0c0"/>
<rect x="782" y="469" width="3" height="4" fill="#c0c0c0"/>
<rect x="786" y="469" width="3" height="4" fill="#c0c0c0"/>
<rect x="790" y="466" width="3" height="7" fill="#c0c0c0"/>
<rect x="794" y="464" width="3" height="9" fill="#c0c0c0"/>
<rect x="798" y="462" width="3" height="11" fill="#c0c0c0"/>
<rect x="802" y="460" width="3" height="13" fill="#c0c0c0"/>
<rect x="806" y="457" width="3" height="16" fill="#c0c0c0"/>
<rect x="810" y="456" width="3" height="17" fill="#c0c0c0"/>
<rect x="814" y="453" width="3" height="20" fill="#c0c0c0"/>
<rect x="818" y="451" width="3" height="22" fill="#c0c0c0"/>
<rect x="822" y="450" width="3" height="23" fill="#c0c0c0"/>
<rect x="826" y="448" width="3" height="25" fill="#c0c0c0"/>
<rect x="830" y="446" width="3" height="27" fill="#c0c0c0"/>
<rect x="834" y="443" width="3" height="30" fill="#c0c0c0"/>
<rect x="838" y="440" width="3" height="33" fill="#c0c0c0"/>
<rect x="842" y="438" width="3" height="35" fill="#c0c0c0"/>
<rect x="846" y="436" width="3" height="37" fill="#c0c0c0"/>
<rect x="850" y="434" width="3" height="39" fill="#c0c0c0"/>
<rect x="854" y="433" width="3" height="40" fill="#c0c0c0"/>
<rect x="858" y="434" width="3" height="39" fill="#c0c0c0"/>
<rect x="862" y="431" width="3" height="42" fill="#c0c0c0"/>
<rect x="866" y="429" width="3" height="44" fill="#c0c0c0"/>
<rect x="870" y="428" width="3" height="45" fill="#c0c0c0"/>
<rect x="874" y="426" width="3" height="47" fill="#c0c0c0"/>
<rect x="878" y="424" width="3" height="49" fill="#c0c0c0"/>
<rect x="882" y="424" width="3" height="49" fill="#c0c0c0"/>
<rect x="886" y="422" width="3" height="51" fill="#c0c0c0"/>
<rect x="890" y="421" width="3" height="52" fill="#c0c0c0"/>
<rect x="894" y="421" width="3" height="52" fill="#c0c0c0"/>
<rect x="898" y="421" width="3" height="52" fill="#c0c0c0"/>
<rect x="902" y="425" width="3" height="48" fill="#c0c0c0"/>
<rect x="906" y="430" width="3" height="43" fill="#c0c0c0"/>
<rect x="910" y="439" width="3" height="34" fill="#c0c0c0"/>
<rect x="914" y="445" width="3" height="28" fill="#c0c0c0"/>
<rect x="918" y="450" width="3" height="23" fill="#c0c0c0"/>
<rect x="922" y="457" width="3" height="16" fill="#c0c0c0"/>
<path d="M901 423h6v1h-6zM896 424h5v1h-5zM907 424h4v1h-4zM892 425h4v1h-4zM911 425h2v1h-2zM889 426h3v1h-3zM913 426h2v1h-2zM887 427h2v1h-2zM915 427h2v1h-2zM884 428h3v1h-3zM917 428h1v1h-1zM882 429h2v1h-2zM918 429h1v1h-1zM880 430h2v1h-2zM919 430h1v1h-1zM877 431h3v1h-3zM920 431h1v1h-1zM874 432h3v1h-3zM921 432h1v1h-1zM871 433h3v1h-3zM922 433h1v1h-1zM868 434h3v1h-3zM923 434h1v1h-1zM866 435h2v1h-2zM864 436h2v1h-2zM862 437h2v1h-2zM860 438h2v1h-2zM859 439h1v1h-1zM857 440h2v1h-2zM855 441h2v1h-2zM853 442h2v1h-2zM851 443h2v1h-2zM849 444h2v1h-2zM847 445h2v1h-2zM845 446h2v1h-2zM843 447h2v1h-2zM842 448h1v1h-1zM840 449h2v1h-2zM838 450h2v1h-2zM837 451h1v1h-1zM835 452h2v1h-2zM833 453h2v1h-2zM831 454h2v1h-2zM829 455h2v1h-2zM827 456h2v1h-2zM825 457h2v1h-2zM823 458h2v1h-2zM711 459h9v1h-9zM821 459h2v1h-2zM705 460h6v1h-6zM720 460h6v1h-6zM819 460h2v1h-2zM702 461h3v1h-3zM726 461h3v1h-3zM817 461h2v1h-2zM99 462h49v1h-49zM317 462h13v1h-13zM700 462h2v1h-2zM729 462h4v1h-4zM815 462h2v1h-2zM93 463h6v1h-6zM148 463h7v1h-7zM313 463h4v1h-4zM330 463h4v1h-4zM697 463h3v1h-3zM733 463h3v1h-3zM813 463h2v1h-2zM89 464h4v1h-4zM155 464h4v1h-4zM310 464h3v1h-3zM334 464h4v1h-4zM695 464h2v1h-2zM736 464h3v1h-3zM811 464h2v1h-2zM85 465h4v1h-4zM159 465h5v1h-5zM307 465h3v1h-3zM338 465h3v1h-3zM693 465h2v1h-2zM739 465h4v1h-4zM808 465h3v1h-3zM82 466h3v1h-3zM164 466h5v1h-5zM305 466h2v1h-2zM341 466h2v1h-2zM557 466h18v1h-18zM691 466h2v1h-2zM743 466h3v1h-3zM806 466h2v1h-2zM79 467h3v1h-3zM169 467h5v1h-5zM303 467h2v1h-2zM343 467h2v1h-2zM553 467h4v1h-4zM575 467h31v1h-31zM689 467h2v1h-2zM746 467h3v1h-3zM803 467h3v1h-3zM75 468h4v1h-4zM174 468h5v1h-5zM301 468h2v1h-2zM345 468h2v1h-2zM551 468h2v1h-2zM606 468h6v1h-6zM686 468h3v1h-3zM749 468h3v1h-3zM799 468h4v1h-4zM72 469h3v1h-3zM179 469h6v1h-6zM299 469h2v1h-2zM347 469h2v1h-2zM548 469h3v1h-3zM612 469h2v1h-2zM684 469h2v1h-2zM752 469h3v1h-3zM796 469h3v1h-3zM68 470h4v1h-4zM185 470h5v1h-5zM297 470h2v1h-2zM349 470h3v1h-3zM546 470h2v1h-2zM614 470h3v1h-3zM681 470h3v1h-3zM755 470h4v1h-4zM792 470h4v1h-4zM62 471h6v1h-6zM190 471h3v1h-3zM295 471h2v1h-2zM352 471h4v1h-4zM543 471h3v1h-3zM617 471h6v1h-6zM678 471h3v1h-3zM759 471h5v1h-5zM787 471h5v1h-5zM3 472h10v1h-10zM54 472h8v1h-8zM193 472h4v1h-4zM293 472h2v1h-2zM356 472h4v1h-4zM541 472h2v1h-2zM623 472h10v1h-10zM676 472h2v1h-2zM764 472h23v1h-23zM13 473h5v1h-5zM43 473h11v1h-11zM197 473h3v1h-3zM291 473h2v1h-2zM360 473h8v1h-8zM378 473h8v1h-8zM396 473h12v1h-12zM538 473h3v1h-3zM633 473h9v1h-9zM654 473h22v1h-22zM18 474h25v1h-25zM200 474h4v1h-4zM289 474h2v1h-2zM368 474h10v1h-10zM386 474h10v1h-10zM408 474h9v1h-9zM536 474h2v1h-2zM642 474h12v1h-12zM204 475h3v1h-3zM287 475h2v1h-2zM417 475h5v1h-5zM532 475h4v1h-4zM207 476h4v1h-4zM285 476h2v1h-2zM422 476h7v1h-7zM478 476h27v1h-27zM527 476h5v1h-5zM211 477h3v1h-3zM283 477h2v1h-2zM429 477h7v1h-7zM473 477h5v1h-5zM505 477h2v1h-2zM516 477h11v1h-11zM214 478h4v1h-4zM281 478h2v1h-2zM436 478h4v1h-4zM471 478h2v1h-2zM507 478h9v1h-9zM218 479h3v1h-3zM278 479h3v1h-3zM440 479h7v1h-7zM465 479h6v1h-6zM221 480h4v1h-4zM276 480h2v1h-2zM447 480h18v1h-18zM225 481h4v1h-4zM274 481h2v1h-2zM229 482h6v1h-6zM269 482h5v1h-5zM235 483h9v1h-9zM263 483h6v1h-6zM244 484h19v1h-19z" fill="#ff0000"/>
<line x1="3" y1="513.5" x2="1165" y2="513.5" stroke="#c0c0c0" stroke-width="1" stroke-dasharray="3,3" stroke-dashoffset="-1"/>
<line x1="3" y1="542.5" x2="1165" y2="542.5" stroke="#c0c0c0" stroke-width="1" stroke-dasharray="3,3" stroke-dashoffset="-1"/>
<path d="M849 503h7v1h-7zM877 503h3v1h-3zM886 503h8v1h-8zM837 504h4v1h-4zM845 504h4v1h-4zM856 504h1v1h-1zM873 504h4v1h-4zM880 504h2v1h-2zM884 504h2v1h-2zM894 504h6v1h-6zM835 505h2v1h-2zM841 505h4v1h-4zM856 505h1v1h-1zM869 505h4v1h-4zM882 505h2v1h-2zM899 505h1v1h-1zM833 506h2v1h-2zM857 506h1v1h-1zM863 506h6v1h-6zM900 506h1v1h-1zM832 507h1v1h-1zM857 507h1v1h-1zM862 507h1v1h-1zM900 507h1v1h-1zM831 508h1v1h-1zM858 508h1v1h-1zM861 508h1v1h-1zM900 508h1v1h-1zM807 509h1v1h-1zM829 509h2v1h-2zM858 509h1v1h-1zM861 509h1v1h-1zM901 509h1v1h-1zM806 510h1v1h-1zM808 510h1v1h-1zM817 510h5v1h-5zM826 510h3v1h-3zM859 510h2v1h-2zM901 510h1v1h-1zM805 511h1v1h-1zM809 511h1v1h-1zM815 511h2v1h-2zM822 511h4v1h-4zM859 511h1v1h-1zM902 511h1v1h-1zM805 512h1v1h-1zM809 512h1v1h-1zM813 512h2v1h-2zM902 512h1v1h-1zM804 513h1v1h-1zM810 513h1v1h-1zM812 513h1v1h-1zM902 513h1v1h-1zM76 514h4v1h-4zM310 514h2v1h-2zM686 514h6v1h-6zM802 514h2v1h-2zM811 514h1v1h-1zM903 514h1v1h-1zM74 515h2v1h-2zM80 515h1v1h-1zM306 515h4v1h-4zM311 515h1v1h-1zM684 515h2v1h-2zM692 515h1v1h-1zM791 515h7v1h-7zM800 515h2v1h-2zM903 515h1v1h-1zM73 516h1v1h-1zM80 516h1v1h-1zM116 516h1v1h-1zM279 516h1v1h-1zM299 516h7v1h-7zM312 516h1v1h-1zM527 516h9v1h-9zM682 516h2v1h-2zM692 516h1v1h-1zM791 516h1v1h-1zM798 516h2v1h-2zM904 516h1v1h-1zM72 517h1v1h-1zM81 517h1v1h-1zM115 517h1v1h-1zM117 517h1v1h-1zM278 517h1v1h-1zM280 517h1v1h-1zM297 517h2v1h-2zM312 517h1v1h-1zM526 517h1v1h-1zM536 517h1v1h-1zM680 517h2v1h-2zM693 517h1v1h-1zM790 517h1v1h-1zM904 517h1v1h-1zM71 518h1v1h-1zM82 518h1v1h-1zM114 518h1v1h-1zM118 518h2v1h-2zM277 518h1v1h-1zM281 518h2v1h-2zM296 518h1v1h-1zM312 518h1v1h-1zM526 518h1v1h-1zM537 518h1v1h-1zM677 518h3v1h-3zM694 518h1v1h-1zM790 518h1v1h-1zM905 518h1v1h-1zM71 519h1v1h-1zM82 519h1v1h-1zM113 519h1v1h-1zM120 519h1v1h-1zM276 519h1v1h-1zM283 519h1v1h-1zM291 519h5v1h-5zM312 519h1v1h-1zM467 519h1v1h-1zM525 519h1v1h-1zM537 519h1v1h-1zM674 519h3v1h-3zM694 519h1v1h-1zM789 519h1v1h-1zM905 519h1v1h-1zM43 520h1v1h-1zM70 520h1v1h-1zM83 520h1v1h-1zM112 520h1v1h-1zM121 520h2v1h-2zM275 520h1v1h-1zM284 520h1v1h-1zM289 520h2v1h-2zM313 520h1v1h-1zM467 520h2v1h-2zM524 520h1v1h-1zM538 520h1v1h-1zM663 520h1v1h-1zM672 520h2v1h-2zM695 520h1v1h-1zM789 520h1v1h-1zM906 520h1v1h-1zM41 521h2v1h-2zM44 521h1v1h-1zM59 521h1v1h-1zM70 521h1v1h-1zM84 521h1v1h-1zM110 521h2v1h-2zM123 521h3v1h-3zM274 521h1v1h-1zM285 521h2v1h-2zM288 521h1v1h-1zM313 521h1v1h-1zM466 521h1v1h-1zM469 521h1v1h-1zM524 521h1v1h-1zM539 521h1v1h-1zM662 521h1v1h-1zM664 521h1v1h-1zM671 521h1v1h-1zM696 521h1v1h-1zM766 521h3v1h-3zM788 521h1v1h-1zM906 521h1v1h-1zM40 522h1v1h-1zM44 522h1v1h-1zM58 522h1v1h-1zM60 522h1v1h-1zM69 522h1v1h-1zM85 522h1v1h-1zM91 522h2v1h-2zM109 522h1v1h-1zM126 522h3v1h-3zM159 522h1v1h-1zM273 522h1v1h-1zM287 522h1v1h-1zM313 522h1v1h-1zM466 522h1v1h-1zM470 522h1v1h-1zM523 522h1v1h-1zM540 522h1v1h-1zM661 522h1v1h-1zM665 522h1v1h-1zM669 522h2v1h-2zM697 522h1v1h-1zM764 522h2v1h-2zM769 522h7v1h-7zM788 522h1v1h-1zM907 522h1v1h-1zM39 523h1v1h-1zM45 523h1v1h-1zM57 523h1v1h-1zM61 523h2v1h-2zM69 523h1v1h-1zM85 523h1v1h-1zM89 523h2v1h-2zM93 523h2v1h-2zM106 523h3v1h-3zM129 523h1v1h-1zM158 523h1v1h-1zM160 523h1v1h-1zM263 523h2v1h-2zM272 523h1v1h-1zM313 523h1v1h-1zM466 523h1v1h-1zM471 523h1v1h-1zM522 523h1v1h-1zM540 523h1v1h-1zM555 523h2v1h-2zM574 523h3v1h-3zM625 523h7v1h-7zM660 523h1v1h-1zM666 523h1v1h-1zM668 523h1v1h-1zM697 523h1v1h-1zM704 523h9v1h-9zM731 523h1v1h-1zM763 523h1v1h-1zM776 523h1v1h-1zM785 523h3v1h-3zM907 523h1v1h-1zM38 524h1v1h-1zM45 524h1v1h-1zM56 524h1v1h-1zM63 524h6v1h-6zM86 524h1v1h-1zM88 524h1v1h-1zM95 524h11v1h-11zM129 524h1v1h-1zM136 524h2v1h-2zM142 524h3v1h-3zM157 524h1v1h-1zM160 524h1v1h-1zM262 524h1v1h-1zM265 524h7v1h-7zM314 524h1v1h-1zM456 524h1v1h-1zM465 524h1v1h-1zM472 524h1v1h-1zM521 524h1v1h-1zM541 524h1v1h-1zM554 524h1v1h-1zM557 524h3v1h-3zM566 524h3v1h-3zM572 524h2v1h-2zM577 524h4v1h-4zM590 524h2v1h-2zM623 524h2v1h-2zM631 524h1v1h-1zM659 524h1v1h-1zM667 524h1v1h-1zM698 524h1v1h-1zM701 524h3v1h-3zM713 524h2v1h-2zM729 524h2v1h-2zM732 524h2v1h-2zM762 524h1v1h-1zM777 524h1v1h-1zM782 524h3v1h-3zM908 524h1v1h-1zM11 525h1v1h-1zM37 525h1v1h-1zM46 525h1v1h-1zM50 525h6v1h-6zM87 525h1v1h-1zM130 525h1v1h-1zM134 525h2v1h-2zM138 525h4v1h-4zM145 525h2v1h-2zM150 525h7v1h-7zM161 525h1v1h-1zM261 525h1v1h-1zM314 525h1v1h-1zM347 525h2v1h-2zM455 525h1v1h-1zM457 525h1v1h-1zM465 525h1v1h-1zM472 525h1v1h-1zM521 525h1v1h-1zM542 525h1v1h-1zM553 525h1v1h-1zM560 525h2v1h-2zM564 525h2v1h-2zM569 525h3v1h-3zM581 525h9v1h-9zM592 525h1v1h-1zM623 525h1v1h-1zM632 525h1v1h-1zM659 525h1v1h-1zM699 525h2v1h-2zM715 525h1v1h-1zM728 525h1v1h-1zM734 525h2v1h-2zM761 525h1v1h-1zM778 525h1v1h-1zM780 525h2v1h-2zM908 525h1v1h-1zM11 526h3v1h-3zM36 526h1v1h-1zM46 526h1v1h-1zM48 526h2v1h-2zM130 526h1v1h-1zM132 526h2v1h-2zM147 526h3v1h-3zM161 526h1v1h-1zM261 526h1v1h-1zM314 526h1v1h-1zM347 526h1v1h-1zM349 526h3v1h-3zM375 526h6v1h-6zM388 526h2v1h-2zM454 526h1v1h-1zM458 526h1v1h-1zM464 526h1v1h-1zM473 526h1v1h-1zM520 526h1v1h-1zM542 526h1v1h-1zM553 526h1v1h-1zM562 526h2v1h-2zM593 526h1v1h-1zM622 526h1v1h-1zM632 526h1v1h-1zM658 526h1v1h-1zM716 526h1v1h-1zM722 526h6v1h-6zM735 526h1v1h-1zM759 526h2v1h-2zM779 526h1v1h-1zM909 526h1v1h-1zM10 527h1v1h-1zM14 527h9v1h-9zM34 527h2v1h-2zM47 527h1v1h-1zM131 527h1v1h-1zM162 527h1v1h-1zM260 527h1v1h-1zM314 527h1v1h-1zM346 527h1v1h-1zM352 527h1v1h-1zM360 527h1v1h-1zM373 527h2v1h-2zM381 527h1v1h-1zM387 527h1v1h-1zM390 527h3v1h-3zM399 527h1v1h-1zM454 527h1v1h-1zM459 527h1v1h-1zM462 527h3v1h-3zM473 527h1v1h-1zM519 527h1v1h-1zM543 527h2v1h-2zM552 527h1v1h-1zM593 527h1v1h-1zM622 527h1v1h-1zM633 527h1v1h-1zM657 527h1v1h-1zM717 527h2v1h-2zM720 527h2v1h-2zM736 527h1v1h-1zM758 527h1v1h-1zM909 527h1v1h-1zM10 528h1v1h-1zM23 528h3v1h-3zM32 528h2v1h-2zM162 528h1v1h-1zM259 528h1v1h-1zM315 528h1v1h-1zM318 528h2v1h-2zM346 528h1v1h-1zM353 528h1v1h-1zM358 528h2v1h-2zM361 528h2v1h-2zM371 528h2v1h-2zM381 528h1v1h-1zM386 528h1v1h-1zM393 528h2v1h-2zM397 528h2v1h-2zM400 528h1v1h-1zM443 528h1v1h-1zM453 528h1v1h-1zM460 528h2v1h-2zM474 528h1v1h-1zM495 528h1v1h-1zM502 528h2v1h-2zM518 528h1v1h-1zM545 528h2v1h-2zM550 528h2v1h-2zM594 528h1v1h-1zM615 528h1v1h-1zM621 528h1v1h-1zM633 528h1v1h-1zM656 528h1v1h-1zM719 528h1v1h-1zM736 528h1v1h-1zM757 528h1v1h-1zM910 528h1v1h-1zM9 529h1v1h-1zM26 529h6v1h-6zM163 529h1v1h-1zM165 529h4v1h-4zM258 529h1v1h-1zM315 529h3v1h-3zM320 529h2v1h-2zM345 529h1v1h-1zM354 529h1v1h-1zM356 529h2v1h-2zM363 529h8v1h-8zM382 529h1v1h-1zM385 529h1v1h-1zM395 529h2v1h-2zM401 529h2v1h-2zM443 529h2v1h-2zM451 529h2v1h-2zM474 529h1v1h-1zM493 529h2v1h-2zM496 529h2v1h-2zM500 529h2v1h-2zM504 529h1v1h-1zM517 529h1v1h-1zM547 529h3v1h-3zM595 529h1v1h-1zM602 529h6v1h-6zM614 529h1v1h-1zM616 529h1v1h-1zM621 529h1v1h-1zM634 529h1v1h-1zM642 529h2v1h-2zM654 529h2v1h-2zM737 529h1v1h-1zM756 529h1v1h-1zM910 529h1v1h-1zM914 529h3v1h-3zM9 530h1v1h-1zM163 530h2v1h-2zM169 530h2v1h-2zM174 530h8v1h-8zM258 530h1v1h-1zM315 530h1v1h-1zM322 530h2v1h-2zM345 530h1v1h-1zM355 530h1v1h-1zM382 530h1v1h-1zM384 530h1v1h-1zM403 530h1v1h-1zM442 530h1v1h-1zM445 530h2v1h-2zM449 530h2v1h-2zM475 530h1v1h-1zM492 530h1v1h-1zM498 530h2v1h-2zM505 530h1v1h-1zM515 530h2v1h-2zM596 530h2v1h-2zM600 530h2v1h-2zM608 530h1v1h-1zM614 530h1v1h-1zM617 530h1v1h-1zM620 530h1v1h-1zM634 530h1v1h-1zM640 530h2v1h-2zM644 530h2v1h-2zM652 530h2v1h-2zM737 530h1v1h-1zM753 530h3v1h-3zM911 530h3v1h-3zM917 530h2v1h-2zM3 531h6v1h-6zM171 531h3v1h-3zM182 531h2v1h-2zM257 531h1v1h-1zM324 531h1v1h-1zM330 531h7v1h-7zM344 531h1v1h-1zM383 531h1v1h-1zM404 531h2v1h-2zM410 531h7v1h-7zM442 531h1v1h-1zM447 531h2v1h-2zM476 531h1v1h-1zM485 531h7v1h-7zM505 531h1v1h-1zM513 531h2v1h-2zM598 531h2v1h-2zM608 531h1v1h-1zM613 531h1v1h-1zM618 531h1v1h-1zM620 531h1v1h-1zM635 531h1v1h-1zM637 531h3v1h-3zM646 531h6v1h-6zM738 531h1v1h-1zM747 531h6v1h-6zM911 531h1v1h-1zM919 531h1v1h-1zM184 532h1v1h-1zM204 532h6v1h-6zM231 532h1v1h-1zM250 532h2v1h-2zM257 532h1v1h-1zM325 532h2v1h-2zM328 532h2v1h-2zM337 532h1v1h-1zM343 532h2v1h-2zM406 532h4v1h-4zM417 532h2v1h-2zM441 532h1v1h-1zM477 532h1v1h-1zM482 532h3v1h-3zM506 532h1v1h-1zM510 532h3v1h-3zM609 532h1v1h-1zM613 532h1v1h-1zM619 532h1v1h-1zM635 532h2v1h-2zM738 532h1v1h-1zM745 532h2v1h-2zM920 532h1v1h-1zM185 533h1v1h-1zM203 533h1v1h-1zM210 533h1v1h-1zM230 533h1v1h-1zM232 533h2v1h-2zM248 533h2v1h-2zM252 533h1v1h-1zM256 533h1v1h-1zM327 533h1v1h-1zM338 533h2v1h-2zM341 533h2v1h-2zM419 533h5v1h-5zM441 533h1v1h-1zM478 533h1v1h-1zM480 533h2v1h-2zM507 533h3v1h-3zM610 533h1v1h-1zM612 533h1v1h-1zM739 533h1v1h-1zM744 533h1v1h-1zM921 533h1v1h-1zM186 534h2v1h-2zM202 534h1v1h-1zM211 534h1v1h-1zM221 534h3v1h-3zM230 534h1v1h-1zM234 534h2v1h-2zM239 534h9v1h-9zM253 534h2v1h-2zM256 534h1v1h-1zM340 534h1v1h-1zM424 534h1v1h-1zM441 534h1v1h-1zM479 534h1v1h-1zM610 534h1v1h-1zM612 534h1v1h-1zM739 534h5v1h-5zM922 534h1v1h-1zM188 535h2v1h-2zM202 535h1v1h-1zM212 535h1v1h-1zM219 535h2v1h-2zM224 535h1v1h-1zM229 535h1v1h-1zM236 535h3v1h-3zM255 535h1v1h-1zM425 535h2v1h-2zM440 535h1v1h-1zM611 535h1v1h-1zM190 536h3v1h-3zM201 536h1v1h-1zM213 536h1v1h-1zM218 536h1v1h-1zM225 536h1v1h-1zM229 536h1v1h-1zM427 536h1v1h-1zM440 536h1v1h-1zM193 537h2v1h-2zM198 537h3v1h-3zM213 537h1v1h-1zM217 537h1v1h-1zM225 537h1v1h-1zM228 537h1v1h-1zM428 537h5v1h-5zM439 537h1v1h-1zM195 538h3v1h-3zM214 538h1v1h-1zM217 538h1v1h-1zM226 538h1v1h-1zM228 538h1v1h-1zM433 538h2v1h-2zM438 538h2v1h-2zM214 539h1v1h-1zM216 539h1v1h-1zM227 539h1v1h-1zM435 539h3v1h-3zM215 540h1v1h-1z" fill="#1e90ff"/>
<rect x="2.5" y="23.5" width="1163" height="391" fill="none" stroke="#000" stroke-width="1"/>
<rect x="2.5" y="416.5" width="1163" height="72" fill="none" stroke="#000" stroke-width="1"/>
<rect x="2.5" y="490.5" width="1163" height="73" fill="none" stroke="#000" stroke-width="1"/>
<rect x="1166" y="48" width="2" height="1" fill="#000"/>
<rect x="1166" y="81" width="2" height="1" fill="#000"/>
<rect x="1166" y="147" width="2" height="1" fill="#000"/>
<rect x="1166" y="180" width="2" height="1" fill="#000"/>
<rect x="1166" y="246" width="2" height="1" fill="#000"/>
<rect x="1166" y="279" width="2" height="1" fill="#000"/>
<rect x="1166" y="312" width="2" height="1" fill="#000"/>
<rect x="1166" y="345" width="2" height="1" fill="#000"/>
<rect x="1166" y="378" width="2" height="1" fill="#000"/>
<rect x="1166" y="411" width="2" height="1" fill="#000"/>
<rect x="1166" y="418" width="1" height="1" fill="#000"/>
<rect x="1166" y="473" width="2" height="1" fill="#000"/>
<rect x="1166" y="487" width="1" height="1" fill="#000"/>
<rect x="1166" y="492" width="1" height="1" fill="#000"/>
<rect x="1166" y="562" width="1" height="1" fill="#000"/>
<rect x="3" y="564" width="1" height="4" fill="#000"/>
<rect x="67" y="564" width="1" height="4" fill="#000"/>
<rect x="131" y="564" width="1" height="4" fill="#000"/>
<rect x="195" y="564" width="1" height="4" fill="#000"/>
<rect x="259" y="564" width="1" height="4" fill="#000"/>
<rect x="323" y="564" width="1" height="4" fill="#000"/>
<rect x="387" y="564" width="1" height="4" fill="#000"/>
<rect x="451" y="564" width="1" height="4" fill="#000"/>
<rect x="515" y="564" width="1" height="4" fill="#000"/>
<rect x="579" y="564" width="1" height="4" fill="#000"/>
<rect x="643" y="564" width="1" height="4" fill="#000"/>
<rect x="707" y="564" width="1" height="4" fill="#000"/>
<rect x="771" y="564" width="1" height="4" fill="#000"/>
<rect x="835" y="564" width="1" height="4" fill="#000"/>
<rect x="899" y="564" width="1" height="4" fill="#000"/>
<rect x="1167" y="60" width="40" height="11" fill="#ff0000"/>
<rect x="1167" y="108" width="40" height="11" fill="#ff0000"/>
<rect x="1167" y="159" width="40" height="11" fill="#00ff00"/>
<rect x="1167" y="189" width="40" height="11" fill="#000000"/>
<rect x="1167" y="208" width="40" height="11" fill="#0000ff"/>
<rect x="1167" y="253" width="40" height="11" fill="#0000ff"/>
<g shape-rendering="auto" text-rendering="optimizeLegibility">
<path d="M5.5 34 L13.5 34 L9.5 29.8 Z" fill="#000"/>
<text x="1171.5" y="51.5" font-size="9.1" fill="#000" font-weight="normal" >1.00495</text>
<text x="1171.5" y="84.5" font-size="9.1" fill="#000" font-weight="normal" >0.99595</text>
<text x="1171.5" y="150.5" font-size="9.1" fill="#000" font-weight="normal" >0.97820</text>
<text x="1171.5" y="183.5" font-size="9.1" fill="#000" font-weight="normal" >0.96920</text>
<text x="1171.5" y="249.5" font-size="9.1" fill="#000" font-weight="normal" >0.95145</text>
<text x="1171.5" y="282.5" font-size="9.1" fill="#000" font-weight="normal" >0.94245</text>
<text x="1171.5" y="315.5" font-size="9.1" fill="#000" font-weight="normal" >0.93370</text>
<text x="1171.5" y="348.5" font-size="9.1" fill="#000" font-weight="normal" >0.92470</text>
<text x="1171.5" y="381.5" font-size="9.1" fill="#000" font-weight="normal" >0.91570</text>
<text x="1171.5" y="414.5" font-size="9.1" fill="#000" font-weight="normal" >0.90695</text>
<text x="1171.5" y="69" font-size="9.1" fill="#fff" font-weight="normal" >1.00017</text>
<text x="1171.5" y="117" font-size="9.1" fill="#fff" font-weight="normal" >0.98709</text>
<text x="1171.5" y="168" font-size="9.1" fill="#fff" font-weight="normal" >0.97334</text>
<text x="1171.5" y="198" font-size="9.1" fill="#fff" font-weight="normal" >0.96561</text>
<text x="1171.5" y="217" font-size="9.1" fill="#fff" font-weight="normal" >0.96019</text>
<text x="1171.5" y="262" font-size="9.1" fill="#fff" font-weight="normal" >0.94783</text>
<text x="1169.3" y="426.8" font-size="9.33" fill="#000" font-weight="normal" >0.015504</text>
<text x="1169.3" y="477" font-size="9.33" fill="#000" font-weight="normal" >0.00</text>
<text x="1169.3" y="484.6" font-size="9.33" fill="#000" font-weight="normal" >-0.004118</text>
<text x="1169.3" y="500.8" font-size="9.33" fill="#000" font-weight="normal" >100</text>
<text x="1169.3" y="517" font-size="9.33" fill="#000" font-weight="normal" >70</text>
<text x="1169.3" y="546" font-size="9.33" fill="#000" font-weight="normal" >30</text>
<text x="1169.3" y="560.5" font-size="9.33" fill="#000" font-weight="normal" >0</text>
<text x="2.5" y="577" font-size="9.33" fill="#000" font-weight="normal" >27 Aug 2021</text>
<text x="66.5" y="577" font-size="9.33" fill="#000" font-weight="normal" >15 Sep 2021</text>
<text x="130.5" y="577" font-size="9.33" fill="#000" font-weight="normal" >4 Oct 2021</text>
<text x="194.5" y="577" font-size="9.33" fill="#000" font-weight="normal" >22 Oct 2021</text>
<text x="258.5" y="577" font-size="9.33" fill="#000" font-weight="normal" >10 Nov 2021</text>
<text x="322.5" y="577" font-size="9.33" fill="#000" font-weight="normal" >29 Nov 2021</text>
<text x="386.5" y="577" font-size="9.33" fill="#000" font-weight="normal" >17 Dec 2021</text>
<text x="450.5" y="577" font-size="9.33" fill="#000" font-weight="normal" >5 Jan 2022</text>
<text x="514.5" y="577" font-size="9.33" fill="#000" font-weight="normal" >24 Jan 2022</text>
<text x="578.5" y="577" font-size="9.33" fill="#000" font-weight="normal" >11 Feb 2022</text>
<text x="642.5" y="577" font-size="9.33" fill="#000" font-weight="normal" >2 Mar 2022</text>
<text x="706.5" y="577" font-size="9.33" fill="#000" font-weight="normal" >21 Mar 2022</text>
<text x="770.5" y="577" font-size="9.33" fill="#000" font-weight="normal" >8 Apr 2022</text>
<text x="834.5" y="577" font-size="9.33" fill="#000" font-weight="normal" >27 Apr 2022</text>
<text x="898.5" y="577" font-size="9.33" fill="#000" font-weight="normal" >16 May 2022</text>
<text x="18.6" y="35" font-size="9.33" fill="#000" font-weight="normal" >USDCHF-,Daily&#160;&#160;0.97494 0.97496 0.96265 0.96561</text>
<text x="7.6" y="429" font-size="9.33" fill="#000" font-weight="normal" >MACD(12,26,9) 0.004326 0.010805</text>
<text x="7.6" y="503" font-size="9.33" fill="#000" font-weight="normal" >RSI(14) 40.1350</text>
</g>
</svg>
<!-- trade panel -->
<div class="abs" style="left:4px;top:41px;width:223px;height:60px;background:#fff"></div>
<div class="abs" style="left:6px;top:43px;width:52px;height:25px;background:linear-gradient(#f84c4c,#da2828)"></div>
<div class="abs" style="left:173px;top:43px;width:52px;height:25px;background:linear-gradient(#f84c4c,#da2828)"></div>
<div class="abs" style="left:6px;top:67px;width:109px;height:33px;background:linear-gradient(#d62626,#c81414 50%,#b00000)"></div>
<div class="abs" style="left:117px;top:67px;width:108px;height:33px;background:linear-gradient(#d62626,#c81414 50%,#b00000)"></div>
<div class="abs" style="left:10px;top:66px;width:44px;height:1px;background:#9a0000"></div>
<div class="abs" style="left:177px;top:66px;width:44px;height:1px;background:#9a0000"></div>
<div class="abs" style="left:60px;top:43px;width:111px;height:22px;background:#fff;border:1px solid #a9a9a9;box-sizing:border-box"></div>
<div class="abs" style="left:62px;top:45px;width:19px;height:19px;background:linear-gradient(#ececec,#d8d8d8 45%,#c6c6c6 55%,#cfcfcf);border-right:1px solid #b0b0b0"></div>
<div class="abs" style="left:151px;top:45px;width:18px;height:19px;background:linear-gradient(#ececec,#d8d8d8 45%,#c6c6c6 55%,#cfcfcf);border-left:1px solid #b0b0b0"></div>
<svg class="abs" style="left:0;top:0" width="240" height="110"><path d="M68 52.5 L73.5 52.5 L70.75 56 Z" fill="#4a5bb8"/><path d="M157 55.5 L162.5 55.5 L159.75 52 Z" fill="#4a5bb8"/></svg>
<div class="rp" style="left:18.3px;top:47.5px;font-size:12px;line-height:14px;transform-origin:0 0;transform:scaleX(0.9)">SELL</div>
<div class="rp" style="left:186.5px;top:47.5px;font-size:12px;line-height:14px;transform-origin:0 0;transform:scaleX(0.9)">BUY</div>
<div class="rp" style="left:122.5px;top:47px;font-size:12px;line-height:14px;color:#000;transform-origin:0 0;transform:scaleX(0.97)">2.00</div>
<div class="rp" style="left:25.8px;top:83.8px;font-size:12.4px;line-height:14px;font-weight:bold">0.96</div>
<div class="rp" style="left:135.8px;top:83.8px;font-size:12.4px;line-height:14px;font-weight:bold">0.96</div>
<svg class="abs" style="left:0;top:0" width="240" height="110"><defs><linearGradient id="rg" gradientUnits="userSpaceOnUse" x1="0" y1="67" x2="0" y2="100"><stop offset="0" stop-color="#d62626"/><stop offset="0.5" stop-color="#c81414"/><stop offset="1" stop-color="#b00000"/></linearGradient></defs>
<g font-size="33.5" fill="#fff" stroke="url(#rg)" stroke-width="0.8" style="paint-order:fill stroke">
<text transform="translate(54.6,94.9) scale(0.91,1)">56</text><text transform="translate(165.7,94.9) scale(0.91,1)">58</text></g></svg>
<div class="rp" style="left:93.4px;top:69.3px;font-size:10.5px;line-height:12px;font-weight:bold">1</div>
<div class="rp" style="left:204.3px;top:69.3px;font-size:10.5px;line-height:12px;font-weight:bold">7</div>
<!-- bottom tabs -->
<div id="tabs" class="abs">
<div class="abs" style="left:0;top:0;width:1207px;height:2px;background:#e6e6e6"></div>
<div class="abs" style="left:0;top:2px;width:1207px;height:1px;background:#000"></div>
<div class="abs" style="left:0;top:3px;width:1207px;height:1px;background:#fbfbfb"></div>
<div class="abs" style="left:320px;top:2px;width:108px;height:19px;background:#fff;border:1px solid #000;border-top:none;box-sizing:border-box"></div>
<div class="abs" style="left:428px;top:4px;width:1px;height:17px;background:#c4c4c4"></div>
<div class="abs" style="left:0;top:22px;width:1207px;height:1px;background:#fdfdfd"></div>
<div class="abs" style="left:0;top:26px;width:1207px;height:1px;background:#a0a0a0"></div>
<div class="abs" style="left:0;top:27px;width:1207px;height:1px;background:#fafafa"></div>
<span class="t" style="left:15.4px">USDX,Weekly</span><i style="left:104px"></i>
<span class="t" style="left:114.8px">EURUSD-,Daily</span><i style="left:212px"></i>
<span class="t" style="left:222px">AUDUSD-,Daily</span>
<span class="t" style="left:332.8px;color:#000;transform-origin:0 0;transform:scaleX(0.966)">USDCHF-,Daily</span>
<span class="t" style="left:439.1px">USDCAD-,Daily</span><i style="left:536px"></i>
<span class="t" style="left:548.1px">USDCNH-,Daily</span><i style="left:648px"></i>
<span class="t" style="left:659.2px">XAUUSD-,Daily</span><i style="left:756px"></i>
<span class="t" style="left:767px">UKOil-,Daily</span><i style="left:848px"></i>
<span class="t" style="left:859px">DJ30-,Weekly</span><i style="left:949px"></i>
<span class="t" style="left:959.4px">UK100-,H1</span><i style="left:1032px"></i>
<span class="t" style="left:1043.4px">USOil-,Daily</span><i style="left:1124px"></i>
<span class="t" style="left:1134.4px;width:41.5px;overflow:hidden">HK50-,D</span>
<svg class="abs" style="left:1176px;top:3px" width="31" height="20"><path d="M8 5.5 L8 11.5 L5 8.5 Z" fill="#9a9a9a"/><path d="M24 4.5 L24 11.5 L27.5 8 Z" fill="#000"/></svg>
</div>
</body></html>
